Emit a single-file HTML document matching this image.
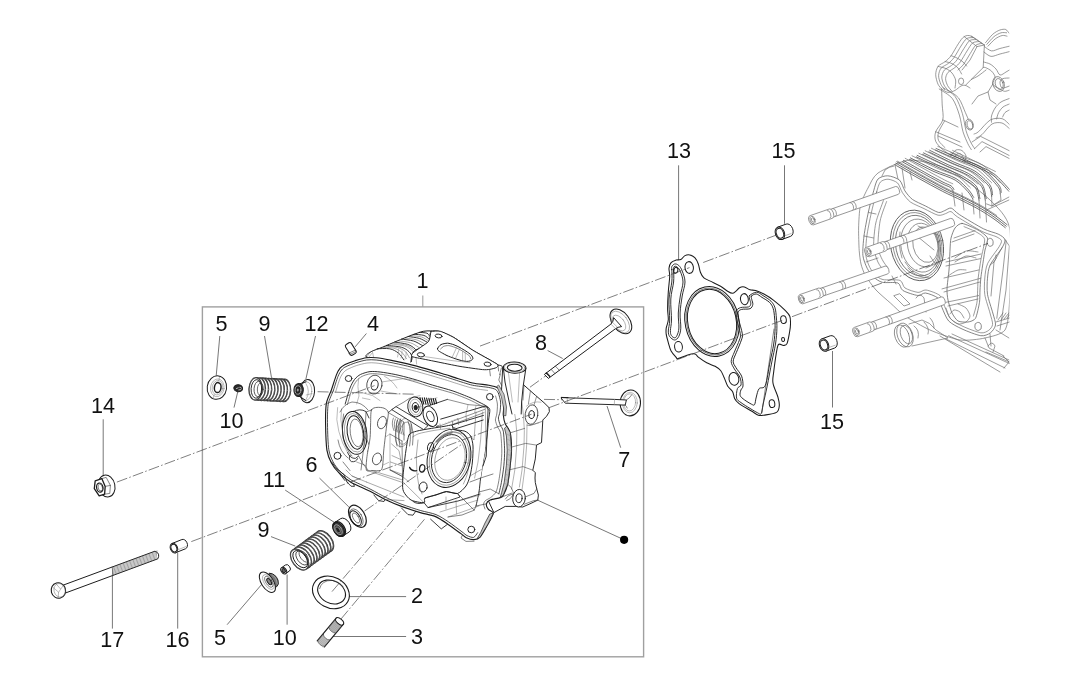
<!DOCTYPE html>
<html><head><meta charset="utf-8"><title>Cylinder head exploded view</title>
<style>
html,body{margin:0;padding:0;background:#fff;}
body{width:1077px;height:673px;overflow:hidden;font-family:"Liberation Sans",sans-serif;}
svg{display:block;position:absolute;left:0;top:0;filter:grayscale(100%);}
text{font-family:"Liberation Sans",sans-serif;font-size:21.6px;fill:#111;text-anchor:middle;}
.k{fill:none;stroke:#1c1c1c;stroke-width:1;stroke-linecap:round;stroke-linejoin:round;}
.kw{fill:#fff;stroke:#1c1c1c;stroke-width:1;stroke-linecap:round;stroke-linejoin:round;}
.t{fill:none;stroke:#333;stroke-width:.6;stroke-linecap:round;stroke-linejoin:round;}
.tw{fill:#fff;stroke:#333;stroke-width:.6;stroke-linejoin:round;}
.u{fill:none;stroke:#777;stroke-width:.5;stroke-linecap:round;stroke-linejoin:round;}
.g{fill:none;stroke:#707070;stroke-width:.7;stroke-linecap:round;stroke-linejoin:round;}
.gw{fill:#fff;stroke:#707070;stroke-width:.7;stroke-linejoin:round;}
.c{fill:none;stroke:#3a3a3a;stroke-width:.65;stroke-dasharray:11 2.2 1.6 2.2;}
.l{fill:none;stroke:#4a4a4a;stroke-width:.75;}
.b{fill:none;stroke:#a0a0a0;stroke-width:1.4;}
</style></head><body>
<svg width="1077" height="673" viewBox="0 0 1077 673">
<!-- 00_lines.svg -->
<g id="frame">
<rect class="b" x="202.4" y="306.9" width="441.2" height="349.9"/>
<line class="b" x1="422.8" y1="295.4" x2="422.8" y2="306.9" style="stroke-width:1.1"/>
</g>

<g id="leaders">
<line class="l" x1="219.8" y1="336" x2="216.2" y2="375.8"/>
<line class="l" x1="264.5" y1="336" x2="271.5" y2="377.7"/>
<line class="l" x1="315.5" y1="336" x2="305.9" y2="379"/>
<line class="l" x1="366.4" y1="333.5" x2="355.1" y2="346.9"/>
<line class="l" x1="547.6" y1="350.5" x2="562.7" y2="358.5"/>
<line class="l" x1="607" y1="406" x2="620.7" y2="447.7"/>
<line class="l" x1="678.6" y1="165.3" x2="678.6" y2="262"/>
<line class="l" x1="784.5" y1="165.3" x2="784.5" y2="223.8"/>
<line class="l" x1="832.5" y1="351" x2="832.5" y2="407.5"/>
<line class="l" x1="103.2" y1="419.3" x2="103.2" y2="475.3"/>
<line class="l" x1="237.7" y1="392" x2="234" y2="407.6"/>
<line class="l" x1="319.5" y1="478.1" x2="348.8" y2="506.9"/>
<line class="l" x1="285.2" y1="490.1" x2="336.2" y2="523.6"/>
<line class="l" x1="271" y1="536.6" x2="295.3" y2="546.1"/>
<line class="l" x1="262.2" y1="583.8" x2="227.1" y2="624.7"/>
<line class="l" x1="287.1" y1="574.5" x2="287.1" y2="624.7"/>
<line class="l" x1="348.4" y1="596.6" x2="406.1" y2="596.6"/>
<line class="l" x1="330.4" y1="636.5" x2="406.1" y2="636.5"/>
<line class="l" x1="112.4" y1="574.3" x2="112.4" y2="628.6"/>
<line class="l" x1="177.7" y1="552.6" x2="177.7" y2="628.6"/>
<line class="l" x1="537.7" y1="500.2" x2="624.1" y2="539.8"/>
<circle cx="624.1" cy="539.8" r="4.1" fill="#000"/>
</g>
<g id="labels">
<text x="422.4" y="288.4">1</text>
<text x="221.5" y="331.1">5</text>
<text x="264.6" y="331.1">9</text>
<text x="316.5" y="331.1">12</text>
<text x="373" y="331.2">4</text>
<text x="541" y="349.9">8</text>
<text x="624.2" y="466.7">7</text>
<text x="678.9" y="157.6">13</text>
<text x="783.4" y="157.6">15</text>
<text x="832.1" y="429.0">15</text>
<text x="102.9" y="412.6">14</text>
<text x="231.4" y="427.5">10</text>
<text x="311.5" y="472.3">6</text>
<text x="274" y="486.5">11</text>
<text x="263.5" y="536.6">9</text>
<text x="220" y="644.9">5</text>
<text x="284.7" y="644.9">10</text>
<text x="417" y="602.8">2</text>
<text x="417" y="644.2">3</text>
<text x="112.2" y="646.7">17</text>
<text x="177.5" y="646.7">16</text>
</g>

<!-- 05_ghost.svg -->
<g id="ghost" clip-path="url(#gclip)">
<clipPath id="gclip"><rect x="780" y="0" width="229.6" height="400"/></clipPath>
<path class="gw" d="M964.2 36.6 L971.3 36.2 L984.4 45.0 L988.0 40.0 L992.7 34.3 L999.9 30.0 L1005.8 29.5 L1009.6 33.0 L1012.0 40.0 L1012.0 165.0 L980.0 168.0 L951.1 155.5 L942.8 149.6 L935.7 141.3 L935.7 131.7 L942.8 119.9 L941.6 89.0 L938.0 84.2 L935.7 74.7 L938.0 66.4 L945.2 61.6 L951.1 55.7 L958.3 43.8Z" style="stroke:none"/>
<path class="g" d="M984.4 45.0 C982.4 43.7 974.3 37.5 971.3 36.2 C968.3 34.9 966.2 35.5 964.2 36.6 C962.2 37.7 960.3 40.9 958.3 43.8 C956.3 46.7 953.1 53.0 951.1 55.7 C949.1 58.4 947.2 60.0 945.2 61.6 C943.2 63.2 939.4 64.4 938.0 66.4 C936.6 68.4 935.7 72.0 935.7 74.7 C935.7 77.4 937.1 82.1 938.0 84.2 C938.9 86.3 941.1 88.3 941.6 89.0"/>
<path class="g" d="M973.0 37.6 C972.0 37.8 968.4 37.3 966.6 38.6 C964.8 39.9 962.9 43.1 961.0 46.0 C959.1 48.9 955.9 55.0 954.0 57.6 C952.1 60.2 950.3 61.8 948.4 63.4 C946.5 65.0 942.7 66.2 941.2 68.0 C939.7 69.8 938.7 73.2 938.6 75.6 C938.5 78.0 939.9 82.1 940.8 84.2 C941.7 86.3 944.0 88.8 944.6 89.6"/>
<path class="g" d="M975.6 39.6 C974.7 39.8 971.3 39.3 969.6 40.6 C967.9 41.9 965.9 45.5 964.0 48.4 C962.1 51.2 959.1 57.0 957.2 59.6 C955.3 62.2 953.5 63.8 951.6 65.4 C949.7 67.0 945.9 68.3 944.4 70.0 C942.9 71.7 941.9 74.8 941.8 77.0 C941.7 79.2 943.1 83.0 944.0 85.0 C944.9 87.0 947.4 89.4 948.0 90.2"/>
<path class="g" d="M978.6 41.6 C977.7 41.8 974.3 41.6 972.6 43.0 C970.9 44.4 968.8 48.2 967.0 51.0 C965.2 53.8 962.2 59.3 960.4 61.8 C958.6 64.3 956.7 66.0 954.8 67.6 C952.9 69.2 949.4 70.8 948.0 72.4 C946.6 74.1 945.7 76.6 945.6 78.6 C945.5 80.6 946.7 83.8 947.6 85.6 C948.5 87.4 951.0 90.0 951.6 90.8"/>
<path class="g" d="M981.6 43.4 C980.7 43.7 977.3 43.9 975.6 45.4 C973.9 46.9 972.0 50.8 970.2 53.6 C968.4 56.4 965.6 61.5 963.8 64.0 C962.0 66.5 958.9 69.1 958.0 70.0"/>
<path class="g" d="M964.2 36.6 L977 46.6 L984.4 45 M971.3 36.2 L983.4 44.4 M977 46.6 L970 60 L962 70 M984.4 45 L983.2 67.6 L971.3 79.4 L965.4 85.4"/>
<path class="g" d="M951.1 55.7 C952.0 56.0 955.2 57.1 957.0 58.0 C958.8 58.9 961.6 60.8 963.0 62.0 C964.4 63.2 966.1 65.4 966.6 66.0"/>
<path class="g" d="M945.2 61.6 C946.2 61.9 950.1 62.6 952.0 63.6 C953.9 64.6 956.6 66.4 958.0 68.0 C959.4 69.6 961.1 73.1 961.6 74.0"/>
<path class="g" d="M938.0 66.4 C939.2 66.7 943.9 67.6 946.0 68.6 C948.1 69.6 950.6 71.3 952.0 73.0 C953.4 74.7 955.1 77.8 955.6 80.0 C956.1 82.2 955.1 86.8 955.0 88.0"/>
<ellipse class="gw" cx="961.10" cy="81.30" rx="2.60" ry="3.30"/>
<path class="g" d="M941.6 89.0 C942.6 89.5 946.0 92.2 948.0 92.4 C950.0 92.6 953.0 91.4 955.0 90.4 C957.0 89.4 959.4 86.8 961.0 86.0 C962.6 85.2 964.0 85.1 965.4 85.4 C966.8 85.7 969.3 87.6 970.0 88.0"/>
<path class="g" d="M985.6 42.6 C986.7 41.4 990.6 36.2 992.7 34.3 C994.8 32.4 997.9 30.7 999.9 30.0 C1001.9 29.3 1004.4 29.0 1005.8 29.5 C1007.1 30.0 1008.4 32.6 1008.9 33.1"/>
<path class="g" d="M988.0 46.2 C989.1 45.1 993.0 40.6 995.1 39.0 C997.2 37.4 1000.4 35.9 1002.2 35.5 C1004.0 35.1 1006.3 36.1 1007.0 36.2"/>
<path class="g" d="M986.8 44.4 C987.9 43.2 991.9 38.3 994.0 36.6 C996.1 34.9 999.1 33.4 1001.0 32.8 C1002.9 32.2 1005.8 32.8 1006.6 32.8"/>
<path class="g" d="M984.4 46.6 C985.5 47.2 989.2 50.6 991.5 50.9 C993.8 51.2 997.2 49.2 999.9 48.5 C1002.6 47.8 1008.0 46.5 1009.4 46.2"/>
<path class="g" d="M984.0 52.0 C985.0 52.7 988.6 56.1 991.0 56.4 C993.4 56.7 997.2 54.7 1000.0 54.0 C1002.8 53.3 1008.0 52.0 1009.4 51.6"/>
<path class="g" d="M983.2 67.6 C983.6 67.6 984.4 67.1 985.6 67.6 C986.8 68.1 990.1 69.7 991.5 71.1 C992.9 72.5 994.9 75.1 995.1 77.1 C995.3 79.1 992.0 82.4 992.7 84.2 C993.4 86.0 998.1 87.9 999.9 89.0 C1001.7 90.1 1003.2 91.1 1004.6 91.3 C1006.0 91.5 1008.7 90.3 1009.4 90.1"/>
<path class="g" d="M983.6 62.0 C984.6 62.3 988.1 63.0 990.0 64.0 C991.9 65.0 994.5 67.3 996.0 69.0 C997.5 70.7 998.5 74.5 1000.0 75.0 C1001.5 75.5 1004.6 72.8 1006.0 72.0 C1007.4 71.2 1008.9 70.3 1009.4 70.0"/>
<path class="g" d="M971.3 79.4 C972.3 78.9 975.8 77.4 978.0 76.0 C980.2 74.6 984.8 70.9 986.0 70.0"/>
<ellipse class="g" cx="998.60" cy="84.00" rx="5.60" ry="7.60" transform="rotate(-20.0 998.60 84.00)"/>
<ellipse class="g" cx="999.20" cy="84.00" rx="3.80" ry="5.60" transform="rotate(-20.0 999.20 84.00)"/>
<path class="g" d="M1009.4 78.0 C1008.4 78.1 1004.4 78.0 1003.0 78.6 C1001.6 79.2 1000.1 80.6 1000.0 82.0 C999.9 83.4 1000.6 87.4 1002.0 88.0 C1003.4 88.6 1008.3 86.3 1009.4 86.0"/>
<path class="g" d="M941.6 89.0 C941.7 91.4 942.0 100.4 942.2 105.0 C942.4 109.6 943.8 115.9 942.8 119.9 C941.8 123.9 936.8 128.5 935.7 131.7 C934.6 134.9 934.6 138.6 935.7 141.3 C936.8 144.0 940.5 147.5 942.8 149.6 C945.1 151.7 949.9 154.6 951.1 155.5"/>
<path class="g" d="M944.6 121.0 C943.7 122.7 939.5 129.1 938.6 132.0 C937.7 134.9 937.6 138.3 938.6 140.6 C939.6 142.9 944.0 146.5 945.0 147.6"/>
<path class="g" d="M942.8 119.9 L958 127 M935.7 131.7 L960 142 M938 136 L962 147"/>
<path class="g" d="M939.2 89.0 C941.2 90.4 949.3 94.6 952.3 98.5 C955.3 102.4 957.8 110.1 959.4 115.1 C961.0 120.1 961.7 127.4 963.0 131.7 C964.3 136.0 966.6 140.9 967.8 143.6 C969.0 146.3 970.8 148.7 971.3 149.6"/>
<path class="g" d="M943.0 87.6 C944.8 88.9 952.3 92.7 955.2 96.6 C958.1 100.5 960.8 108.5 962.4 113.6 C964.0 118.7 964.8 126.3 966.0 130.6 C967.2 134.9 969.3 139.3 970.6 142.0 C971.9 144.7 974.0 147.6 974.6 148.6"/>
<path class="g" d="M948.0 90.2 C949.6 91.4 956.0 94.6 958.6 98.0 C961.2 101.4 963.9 109.3 965.4 112.6 C966.9 115.9 968.1 118.9 968.6 120.0"/>
<ellipse class="gw" cx="969.40" cy="124.60" rx="3.80" ry="5.50" transform="rotate(-15.0 969.40 124.60)"/>
<ellipse class="g" cx="969.90" cy="124.90" rx="2.80" ry="4.40" transform="rotate(-15.0 969.90 124.90)"/>
<path class="g" d="M974.0 134.0 C974.7 133.7 976.0 133.8 978.5 131.7 C981.0 129.6 986.8 121.9 990.4 119.9 C994.0 118.0 999.4 118.0 1002.2 118.7 C1005.1 119.4 1008.3 123.7 1009.4 124.6"/>
<path class="g" d="M976.0 138.0 C976.9 137.5 979.6 136.7 982.0 134.6 C984.4 132.5 989.0 125.7 992.0 124.0 C995.0 122.3 999.4 122.3 1002.0 123.0 C1004.6 123.7 1008.3 127.8 1009.4 128.6"/>
<path class="g" d="M972 142 L980.6 136.4 L1009.4 150.8 M974.6 148.6 L982 141.6 L1009.4 155.6 M980 152 L986 146.6 L1009.4 158.6"/>
<path class="g" d="M1009.4 98.5 C1008.1 99.0 1003.1 100.6 1001.0 102.0 C998.9 103.4 996.5 105.9 995.1 108.0 C993.7 110.1 992.0 113.9 991.5 116.0 C991.0 118.1 991.5 121.3 991.5 122.2"/>
<path class="g" d="M1009.4 104.0 C1008.4 104.5 1004.6 105.7 1003.0 107.0 C1001.4 108.3 999.6 110.8 998.6 112.6 C997.6 114.4 996.9 118.0 996.6 119.0"/>
<path class="g" d="M1009.4 110.0 C1008.7 110.4 1006.0 111.5 1005.0 112.6 C1004.0 113.6 1003.0 116.3 1002.6 117.0"/>
<path class="g" d="M992.7 84.2 L988 92 L990 100 L996 104 M988 92 L978 96 L972 104"/>
<path class="g" d="M951.1 155.5 C951.8 154.7 954.4 150.7 956.0 150.0 C957.6 149.3 960.5 149.7 962.0 150.6 C963.5 151.5 965.7 154.3 966.0 156.0 C966.3 157.7 964.3 161.1 964.0 162.0"/>
<path class="g" d="M953.6 158.0 C954.2 157.3 956.4 154.1 957.6 153.6 C958.8 153.1 960.7 153.8 961.6 154.6 C962.5 155.4 963.3 158.3 963.6 159.0"/>
<path class="gw" d="M878.0 173.0 C873.1 176.3 870.1 184.2 868.0 188.0 C865.9 191.8 861.5 200.8 860.4 205.5 C859.3 210.2 858.7 222.8 858.6 228.0 C858.5 233.2 858.9 246.3 859.2 250.5 C859.5 254.7 860.3 261.1 861.0 264.0 C861.7 266.9 863.6 272.5 865.4 275.5 C867.1 278.5 873.1 286.8 876.0 290.0 C878.9 293.2 887.0 300.0 890.4 303.0 C893.8 306.0 900.4 312.9 905.0 316.0 C909.6 319.1 923.6 327.2 930.0 330.0 C936.4 332.8 953.6 339.1 960.0 340.0 C966.4 340.9 979.8 339.2 985.0 338.0 C990.2 336.8 1002.1 334.4 1005.0 330.0 C1007.9 325.6 1009.1 311.9 1009.6 300.0 C1010.1 288.1 1011.9 239.7 1009.6 228.0 C1007.3 216.3 997.0 206.8 990.0 200.0 C983.0 193.2 959.3 174.7 950.0 170.0 C940.7 165.3 918.4 159.7 910.0 160.0 C901.6 160.3 882.9 169.7 878.0 173.0Z"/>
<path class="g" d="M895.0 164.8 C898.5 166.8 910.8 174.0 918.0 178.0 C925.2 182.0 936.1 188.0 942.7 191.4 C949.3 194.8 956.4 197.8 962.0 200.6 C967.6 203.4 975.5 207.4 980.3 210.2 C985.1 213.0 990.2 216.4 994.0 219.0 C997.8 221.6 1003.6 226.4 1005.3 227.7 M895.9 163.3 C899.4 165.3 911.7 172.5 918.9 176.5 C926.1 180.5 937.0 186.5 943.6 189.9 C950.2 193.3 957.3 196.3 962.9 199.1 C968.5 201.9 976.4 205.9 981.2 208.7 C986.0 211.5 991.1 214.9 994.9 217.5 C998.6 220.1 1004.5 224.9 1006.2 226.2 M896.8 161.8 C900.2 163.8 912.6 171.0 919.8 175.0 C927.0 179.0 937.9 185.0 944.5 188.4 C951.1 191.8 958.2 194.8 963.8 197.6 C969.4 200.4 977.3 204.4 982.1 207.2 C986.9 210.0 992.0 213.4 995.8 216.0 C999.5 218.6 1005.4 223.4 1007.1 224.7 M902.6 161.9 C906.1 163.9 920.1 171.7 926.0 175.0 C931.9 178.3 938.4 181.7 942.0 183.6 C945.6 185.5 948.6 186.3 950.2 187.4 C951.9 188.5 952.6 190.5 953.0 191.0 M903.5 160.4 C907.0 162.4 921.0 170.2 926.9 173.5 C932.8 176.8 939.3 180.2 942.9 182.1 C946.5 184.0 949.5 184.8 951.1 185.9 C952.8 187.0 953.5 189.0 953.9 189.5 M909.5 159.4 C913.2 161.2 927.1 168.5 934.0 171.6 C940.9 174.7 950.1 177.1 955.2 180.1 C960.3 183.1 965.1 188.6 967.7 191.4 C970.3 194.2 972.0 197.8 972.8 198.9 M910.4 157.9 C914.1 159.7 928.0 167.0 934.9 170.1 C941.8 173.2 951.0 175.6 956.1 178.6 C961.2 181.6 966.0 187.1 968.6 189.9 C971.2 192.7 972.9 196.3 973.7 197.4 M916.3 156.9 C920.2 158.7 935.2 165.9 942.0 169.0 C948.8 172.1 956.5 174.8 961.5 177.6 C966.5 180.4 972.7 184.2 975.3 187.6 C977.9 191.0 978.4 198.2 979.0 200.1 M917.2 155.4 C921.1 157.2 936.1 164.4 942.9 167.5 C949.7 170.6 957.4 173.3 962.4 176.1 C967.4 178.9 973.6 182.7 976.2 186.1 C978.8 189.5 979.3 196.7 979.9 198.6 M922.6 154.4 C926.4 156.2 941.2 163.5 948.0 166.6 C954.8 169.7 962.7 172.1 967.7 175.1 C972.7 178.1 978.9 182.7 981.5 186.4 C984.1 190.2 984.7 198.0 985.3 200.1 M923.5 152.9 C927.3 154.7 942.1 162.0 948.9 165.1 C955.7 168.2 963.6 170.6 968.6 173.6 C973.6 176.6 979.8 181.2 982.4 184.9 C985.0 188.7 985.6 196.5 986.2 198.6 M928.9 151.9 C932.7 153.7 947.2 160.9 954.0 164.0 C960.8 167.1 968.8 169.2 974.0 172.6 C979.2 176.0 986.4 182.8 989.0 186.4 C991.6 190.0 991.2 194.9 991.6 196.4 M929.8 150.4 C933.6 152.2 948.1 159.4 954.9 162.5 C961.7 165.6 969.6 167.7 974.9 171.1 C980.1 174.5 987.3 181.3 989.9 184.9 C992.5 188.5 992.1 193.4 992.5 194.9 M935.2 150.0 C938.9 151.6 953.2 157.8 960.0 160.6 C966.8 163.4 974.6 164.9 980.3 168.8 C986.0 172.7 994.8 182.6 997.8 186.4 C1000.8 190.2 999.9 192.8 1000.3 193.9 M936.1 148.5 C939.8 150.1 954.1 156.3 960.9 159.1 C967.7 161.9 975.5 163.4 981.2 167.3 C986.9 171.2 995.7 181.1 998.7 184.9 C1001.7 188.7 1000.8 191.3 1001.2 192.4 M950.0 154.0 C953.0 155.5 963.8 160.6 970.2 163.8 C976.6 167.0 987.0 171.0 992.8 175.1 C998.6 179.2 1006.6 189.0 1009.0 191.4 M950.9 152.5 C953.9 154.0 964.7 159.1 971.1 162.3 C977.5 165.5 987.9 169.5 993.7 173.6 C999.5 177.7 1007.5 187.5 1009.9 189.9" style="stroke:#4a4a4a;stroke-width:.8"/>
<path class="g" d="M897.6 161.2 C901.1 163.2 913.4 170.4 920.6 174.4 C927.8 178.4 938.7 184.4 945.3 187.8 C951.9 191.2 959.0 194.2 964.6 197.0 C970.2 199.8 978.1 203.8 982.9 206.6 C987.7 209.4 994.5 214.1 996.6 215.4 M905.2 158.3 C908.7 160.3 922.7 168.1 928.6 171.4 C934.5 174.7 941.0 178.1 944.6 180.0 C948.2 181.9 951.6 183.2 952.8 183.8 M912.1 155.8 C915.8 157.6 929.7 164.9 936.6 168.0 C943.5 171.1 952.7 173.5 957.8 176.5 C962.9 179.5 968.4 186.1 970.3 187.8 M918.9 153.3 C922.8 155.1 937.8 162.3 944.6 165.4 C951.4 168.5 959.1 171.2 964.1 174.0 C969.1 176.8 975.8 182.5 977.9 184.0 M925.2 150.8 C929.0 152.6 943.8 159.9 950.6 163.0 C957.4 166.1 965.3 168.5 970.3 171.5 C975.3 174.5 982.0 181.1 984.1 182.8 M931.5 148.3 C935.3 150.1 949.8 157.3 956.6 160.4 C963.4 163.5 971.4 165.6 976.6 169.0 C981.9 172.4 989.4 180.7 991.6 182.8 M937.8 146.4 C941.5 148.0 955.8 154.2 962.6 157.0 C969.4 159.8 977.2 161.3 982.9 165.2 C988.6 169.1 997.8 180.2 1000.4 182.8 M952.6 150.4 C955.6 151.9 966.4 157.0 972.8 160.2 C979.2 163.4 992.0 169.8 995.4 171.5"/>
<path class="g" d="M894 166 Q889 166.6 885 170 L882 176 M895 164.8 L899 184 M902 168 L905 188 M910 172 L912 180"/>
<path class="g" d="M953 191 L955 206 M962 193 L964 210 M972.8 198.9 L974 214 M979 200.1 L980 218 M985.3 200.1 L986.5 222 M991.6 196.4 L992 206 L986.5 203.9 M1000.3 193.9 L1001 200 L992 206 M992 206 L1009 197 M986.5 210 L1009 200"/>
<path class="gw" d="M873.7 190.8 C875.0 186.3 876.1 181.0 878.0 179.0 C879.9 177.0 884.8 175.7 887.7 175.8 C890.6 175.9 897.2 178.1 899.5 180.1 C901.8 182.1 903.2 188.2 904.9 190.8 C906.6 193.4 909.7 197.4 912.4 199.4 C915.1 201.4 921.8 204.2 925.3 205.9 C928.8 207.6 935.7 211.8 938.3 212.4 C940.9 213.0 943.0 211.2 944.7 210.6 C946.4 210.0 949.2 207.6 951.2 208.1 C953.2 208.6 955.1 211.8 959.4 214.6 C963.7 217.4 978.3 226.2 983.5 228.8 C988.7 231.4 995.3 232.7 998.2 234.1 C1001.1 235.5 1004.4 237.7 1004.9 239.5 C1005.4 241.3 1004.2 244.1 1002.2 247.5 C1000.2 250.9 992.2 260.8 990.2 264.9 C988.2 269.0 987.9 274.3 987.5 278.2 C987.1 282.1 986.8 289.7 987.5 294.3 C988.2 298.9 991.7 308.9 992.8 313.0 C993.9 317.1 995.8 322.3 995.5 325.0 C995.2 327.7 992.2 331.6 990.2 333.0 C988.2 334.4 984.5 336.2 980.8 335.7 C977.1 335.2 966.4 331.0 962.1 329.0 C957.8 327.0 951.4 323.9 948.7 321.0 C946.0 318.1 943.4 310.7 942.0 307.6 C940.6 304.5 940.1 299.9 937.9 298.0 C935.7 296.1 928.1 293.3 925.4 293.0 C922.7 292.7 920.9 295.8 917.9 295.5 C914.9 295.2 905.6 292.2 902.9 290.5 C900.2 288.8 900.6 284.1 897.9 283.0 C895.2 281.9 885.5 283.1 882.3 282.3 C879.1 281.5 875.7 278.9 873.7 277.0 C871.7 275.1 868.6 271.2 867.2 268.3 C865.8 265.4 863.3 259.7 862.9 255.4 C862.5 251.1 863.3 241.7 864.0 236.0 C864.7 230.3 867.0 218.4 868.3 212.4 C869.6 206.4 872.4 195.3 873.7 190.8Z" style="stroke:#666;stroke-width:.8"/>
<path class="g" d="M876.6 192.0 C877.8 187.8 878.9 183.7 880.4 182.0 C881.9 180.3 885.7 179.1 888.0 179.2 C890.3 179.3 895.7 181.2 897.6 183.0 C899.5 184.8 900.7 190.1 902.4 192.6 C904.1 195.1 907.5 199.9 910.4 202.0 C913.3 204.1 920.3 206.8 924.0 208.6 C927.7 210.4 935.1 214.5 938.0 215.2 C940.9 215.9 943.9 214.1 945.6 213.6 C947.3 213.1 949.4 211.1 951.0 211.6 C952.6 212.1 953.5 214.4 957.6 217.0 C961.7 219.6 976.9 228.8 982.0 231.4 C987.1 234.0 993.4 235.4 996.0 236.6 C998.6 237.8 1001.0 239.3 1001.4 240.6 C1001.8 241.9 1001.0 243.5 999.2 246.6 C997.4 249.7 989.5 259.4 987.6 263.6 C985.7 267.8 985.2 273.9 984.8 278.0 C984.4 282.1 984.1 289.9 984.8 294.6 C985.5 299.3 989.0 309.0 990.0 313.0 C991.0 317.0 992.8 322.1 992.6 324.4 C992.4 326.7 990.2 329.3 988.6 330.4 C987.0 331.5 984.2 333.3 980.8 332.8 C977.4 332.3 967.0 328.3 963.0 326.4 C959.0 324.5 953.1 321.5 950.6 318.8 C948.1 316.1 946.0 309.5 944.6 306.4 C943.2 303.3 942.5 297.8 940.0 295.6 C937.5 293.4 928.9 290.4 926.0 290.0 C923.1 289.6 920.8 292.7 918.0 292.4 C915.2 292.1 907.4 289.6 905.0 288.0 C902.6 286.4 902.9 281.5 900.0 280.4 C897.1 279.3 886.3 280.3 883.0 279.6 C879.7 278.9 877.4 276.6 875.6 275.0 C873.8 273.4 871.1 270.1 869.8 267.4 C868.5 264.7 866.2 259.1 865.8 255.0 C865.4 250.9 866.1 241.9 866.8 236.4 C867.5 230.9 869.9 219.3 871.2 213.4 C872.5 207.5 875.4 196.2 876.6 192.0Z"/>
<path class="g" d="M886.6 201.6 C885.7 204.2 881.2 215.0 880.1 221.0 C879.0 227.0 877.7 241.6 878.0 246.8 C878.3 252.0 881.0 256.9 882.3 259.7 C883.6 262.5 887.2 266.9 888.0 268.0"/>
<path class="g" d="M883.4 200.6 C882.4 203.6 877.1 216.8 875.8 223.0 C874.5 229.2 873.4 241.6 873.7 246.8 C874.0 252.0 876.5 258.8 877.9 262.0 C879.3 265.2 883.2 269.8 884.0 271.0"/>
<path class="g" d="M868.3 212.4 L876 214 M864 236 L873.7 238 M866 262 L878 258 M873.7 277 L884 271 M892 276 L896 284"/>
<ellipse class="g" cx="917.00" cy="245.40" rx="26.20" ry="35.60" transform="rotate(-12.0 917.00 245.40)" style="stroke:#5c5c5c;stroke-width:.9"/>
<ellipse class="g" cx="917.40" cy="245.40" rx="24.20" ry="33.20" transform="rotate(-12.0 917.40 245.40)"/>
<ellipse class="g" cx="918.00" cy="245.60" rx="22.20" ry="30.60" transform="rotate(-12.0 918.00 245.60)" style="stroke:#666;stroke-width:.8"/>
<ellipse class="g" cx="920.00" cy="245.60" rx="19.00" ry="26.80" transform="rotate(-12.0 920.00 245.60)"/>
<ellipse class="g" cx="923.00" cy="245.00" rx="15.40" ry="22.00" transform="rotate(-12.0 923.00 245.00)"/>
<ellipse class="g" cx="925.40" cy="244.60" rx="12.40" ry="18.00" transform="rotate(-12.0 925.40 244.60)"/>
<path class="g" d="M912 232 L934 250 M918 226 L940 236 M930 256 L938 268 M905 262 Q912 274 926 276 M908 268 Q916 278 930 278 M926 268 L940 262 M900 232 Q898 246 902 258"/>
<path class="g" d="M962.1 223.4 C964.8 223.6 975.1 228.4 978.1 230.1 C981.1 231.8 986.7 235.8 987.5 238.1 C988.3 240.4 985.5 247.5 985.0 250.0 C984.5 252.5 984.0 256.2 983.5 259.5 C983.0 262.8 981.2 274.6 980.8 278.2 C980.4 281.8 980.2 287.2 980.0 290.0 C979.8 292.8 980.0 299.0 979.5 302.3 C979.0 305.6 976.8 316.0 975.5 318.3 C974.2 320.6 970.0 321.7 968.0 322.0 C966.0 322.3 959.9 322.1 958.0 321.0 C956.1 319.9 953.2 315.4 952.0 313.0 C950.8 310.6 948.6 302.8 948.0 300.0 C947.4 297.2 946.9 292.4 947.0 288.9 C947.1 285.4 948.6 274.5 949.0 270.0 C949.4 265.5 949.8 253.7 950.0 250.0 C950.2 246.3 950.4 240.7 951.0 238.1 C951.6 235.5 953.7 229.7 955.0 228.0 C956.3 226.3 959.4 223.2 962.1 223.4Z" style="stroke:#666;stroke-width:.8"/>
<path class="g" d="M964.0 226.6 C965.5 227.3 974.6 230.9 977.0 232.4 C979.4 233.9 984.1 236.3 984.6 239.4 C985.1 242.5 981.7 254.5 981.0 259.0 C980.3 263.5 978.7 273.0 978.2 278.0 C977.7 283.0 977.6 297.6 977.0 302.0 C976.4 306.4 973.8 314.4 973.4 316.0"/>
<path class="g" d="M954 238 L975 230.6 M952 242 L974 234 M946 262 L981 254 M946 266 L980.6 258.6 M944 278 L978.6 270 M942 288.9 L980.8 278.2 M944 292 L980 282 M946 302.3 L978.6 295.6 M948 306 L978 299"/>
<path class="g" d="M955.0 258.0 C956.5 257.1 962.9 251.8 966.0 251.0 C969.1 250.2 976.4 251.9 978.0 252.0"/>
<path class="g" d="M955.0 262.0 C956.5 261.2 963.2 256.5 966.0 256.0 C968.8 255.5 974.7 257.7 976.0 258.0"/>
<path class="g" d="M948.0 276.0 C949.3 275.2 955.6 270.8 958.0 270.0 C960.4 269.2 964.9 270.0 966.0 270.0"/>
<path class="g" d="M946.0 308.0 C946.5 309.3 948.4 315.9 950.0 318.0 C951.6 320.1 955.9 323.5 958.0 324.0 C960.1 324.5 964.4 323.1 966.0 322.0 C967.6 320.9 970.0 317.9 970.0 316.0 C970.0 314.1 967.6 309.6 966.0 308.0 C964.4 306.4 959.1 304.5 958.0 304.0"/>
<path class="g" d="M950.0 314.0 C950.5 313.5 952.7 310.3 954.0 310.0 C955.3 309.7 958.7 310.9 960.0 312.0 C961.3 313.1 963.5 317.2 964.0 318.0"/>
<ellipse class="gw" cx="990.20" cy="242.30" rx="3.00" ry="4.00" transform="rotate(-10.0 990.20 242.30)" style="stroke:#666"/>
<ellipse class="gw" cx="978.10" cy="326.40" rx="3.30" ry="4.00" transform="rotate(-10.0 978.10 326.40)" style="stroke:#666"/>
<path class="g" d="M1006.2 240.8 L1003 270 L996.8 318.3 M1004.9 239.5 L1009.4 246 L1006 290 L1000 330 M1002.2 247.5 L994 262 M990.2 264.9 L994 262 L991 296 M994 262 Q997 259 996 255"/>
<path class="g" d="M996 322 L1009.4 318 M997 326 L1009.4 322 M998 320 L1003 313 M1001 320 L1006 313 M1004 319 L1009 313 M1007 318 L1009.4 315"/>
<path class="g" d="M894 296 L904 306 L910 304 L900 294 Z M916 298 Q920 292 924 298 L926 312"/>
<ellipse class="gw" cx="905.00" cy="335.00" rx="7.60" ry="12.40" transform="rotate(-20.0 905.00 335.00)"/>
<ellipse class="g" cx="906.40" cy="334.60" rx="5.60" ry="9.60" transform="rotate(-20.0 906.40 334.60)"/>
<ellipse class="g" cx="902.00" cy="336.00" rx="7.00" ry="11.60" transform="rotate(-20.0 902.00 336.00)"/>
<path class="g" d="M909 324 L922 320 Q930 322 936 330 L948 338 L912 346 M914 326 Q920 330 918 338 M924 322 Q930 328 928 334 M930 318 Q934 322 934 328"/>
<path class="g" d="M940 336 L1000 372 M948.7 335.7 L1010 363.8 M946 339 L1005 368 M952 334 L1009 360 M985 338 L989 348 L1004 356 M996 330 L1009 338 M986 352 L1009.4 362"/>
<path class="g" d="M988 346 Q992 340 995 346 L993 352 M1003 356 L1009 362 L1004 368 M990 334 L991 346"/>
<path class="gw" d="M829.8 209.6 L895.6 186.5 A2.3 4.1 -19.3 0 1 898.4 194.3 L832.5 217.4Z" style="stroke:#6a6a6a"/>
<path class="gw" d="M810.2 215.6 L829.5 208.9 A2.5 4.9 -19.3 0 1 832.8 218.1 L813.5 224.9 A2.9 4.9 -19.3 0 1 810.2 215.6Z" style="stroke:#6a6a6a"/>
<ellipse class="g" cx="812.60" cy="220.01" rx="2.45" ry="3.92" transform="rotate(-19.3 812.60 220.01)"/>
<ellipse class="g" cx="812.90" cy="220.01" rx="1.37" ry="2.35" transform="rotate(-19.3 812.90 220.01)"/>
<path class="g" d="M827.3 210.5 A2.0 4.1 -19.3 0 1 830.1 218.2"/>
<path class="g" d="M833.0 208.5 A2.0 4.1 -19.3 0 1 835.7 216.2"/>
<path class="g" d="M850.0 202.5 A2.0 4.1 -19.3 0 1 852.7 210.3"/>
<path class="g" d="M852.8 201.6 A2.0 4.1 -19.3 0 1 855.5 209.3"/>
<path class="gw" d="M882.9 242.4 L950.6 218.4 A2.3 4.1 -19.5 0 1 953.4 226.2 L885.7 250.1Z" style="stroke:#6a6a6a"/>
<path class="gw" d="M866.2 247.4 L882.7 241.6 A2.5 4.9 -19.5 0 1 885.9 250.9 L869.5 256.7 A2.9 4.9 -19.5 0 1 866.2 247.4Z" style="stroke:#6a6a6a"/>
<ellipse class="g" cx="868.59" cy="251.80" rx="2.45" ry="3.92" transform="rotate(-19.5 868.59 251.80)"/>
<ellipse class="g" cx="868.89" cy="251.80" rx="1.37" ry="2.35" transform="rotate(-19.5 868.89 251.80)"/>
<path class="g" d="M880.5 243.2 A2.0 4.1 -19.5 0 1 883.2 251.0"/>
<path class="g" d="M886.1 241.2 A2.0 4.1 -19.5 0 1 888.9 249.0"/>
<path class="g" d="M900.3 236.2 A2.0 4.1 -19.5 0 1 903.0 244.0"/>
<path class="g" d="M903.1 235.2 A2.0 4.1 -19.5 0 1 905.9 243.0"/>
<path class="gw" d="M819.1 288.8 L885.2 266.1 A2.3 4.1 -18.9 0 1 887.8 273.9 L821.8 296.5Z" style="stroke:#6a6a6a"/>
<path class="gw" d="M799.5 294.7 L818.8 288.0 A2.5 4.9 -18.9 0 1 822.0 297.3 L802.6 303.9 A2.9 4.9 -18.9 0 1 799.5 294.7Z" style="stroke:#6a6a6a"/>
<ellipse class="g" cx="801.81" cy="299.03" rx="2.45" ry="3.92" transform="rotate(-18.9 801.81 299.03)"/>
<ellipse class="g" cx="802.11" cy="299.03" rx="1.37" ry="2.35" transform="rotate(-18.9 802.11 299.03)"/>
<path class="g" d="M816.6 289.6 A2.0 4.1 -18.9 0 1 819.3 297.4"/>
<path class="g" d="M822.3 287.7 A2.0 4.1 -18.9 0 1 825.0 295.4"/>
<path class="g" d="M839.4 281.8 A2.0 4.1 -18.9 0 1 842.0 289.6"/>
<path class="g" d="M842.2 280.9 A2.0 4.1 -18.9 0 1 844.9 288.6"/>
<path class="gw" d="M869.8 322.7 L941.3 296.9 A2.3 4.1 -19.8 0 1 944.1 304.7 L872.6 330.4Z" style="stroke:#6a6a6a"/>
<path class="gw" d="M854.3 327.4 L869.5 321.9 A2.5 4.9 -19.8 0 1 872.8 331.2 L857.6 336.7 A2.9 4.9 -19.8 0 1 854.3 327.4Z" style="stroke:#6a6a6a"/>
<ellipse class="g" cx="856.69" cy="331.78" rx="2.45" ry="3.92" transform="rotate(-19.8 856.69 331.78)"/>
<ellipse class="g" cx="856.99" cy="331.78" rx="1.37" ry="2.35" transform="rotate(-19.8 856.99 331.78)"/>
<path class="g" d="M867.3 323.6 A2.0 4.1 -19.8 0 1 870.1 331.3"/>
<path class="g" d="M873.0 321.6 A2.0 4.1 -19.8 0 1 875.8 329.3"/>
<path class="g" d="M885.9 316.9 A2.0 4.1 -19.8 0 1 888.7 324.6"/>
<path class="g" d="M888.7 315.9 A2.0 4.1 -19.8 0 1 891.5 323.6"/>
</g>

<!-- 10_small.svg -->
<g id="nut14">
<ellipse class="kw" cx="106.60" cy="486.00" rx="8.30" ry="11.10" transform="rotate(-12.0 106.60 486.00)"/>
<path class="t" d="M101.8 478.6 L106.2 477.4 L110.4 485.4 L109.8 493.4 L104.6 494.2"/>
<path class="kw" d="M95.2 480.8 L101.8 478.6 L105.2 486.4 L104.6 494.2 L99.2 495.9 L94.3 488.6Z" style="stroke-width:1.3"/>
<path class="t" d="M105.2 486.4 L110.4 485.4"/>
<ellipse class="k" cx="99.80" cy="487.60" rx="3.20" ry="4.60" transform="rotate(-12.0 99.80 487.60)" style="stroke-width:1.2"/>
<ellipse class="t" cx="100.30" cy="487.50" rx="2.20" ry="3.50" transform="rotate(-12.0 100.30 487.50)"/>
</g>
<g id="bolt17">
<path class="kw" d="M63 585.20 L155 551.16 Q160.6 553.36 157.8 558.82 L65.7 592.90Z"/>
<path class="u" d="M113.50 566.92 L112.30 575.26 M114.95 566.38 L113.75 574.72 M116.40 565.84 L115.20 574.18 M117.85 565.31 L116.65 573.65 M119.30 564.77 L118.10 573.11 M120.75 564.23 L119.55 572.58 M122.20 563.70 L121.00 572.04 M123.65 563.16 L122.45 571.50 M125.10 562.62 L123.90 570.97 M126.55 562.09 L125.35 570.43 M128.00 561.55 L126.80 569.89 M129.45 561.01 L128.25 569.36 M130.90 560.48 L129.70 568.82 M132.35 559.94 L131.15 568.28 M133.80 559.40 L132.60 567.75 M135.25 558.87 L134.05 567.21 M136.70 558.33 L135.50 566.67 M138.15 557.79 L136.95 566.14 M139.60 557.26 L138.40 565.60 M141.05 556.72 L139.85 565.06 M142.50 556.19 L141.30 564.53 M143.95 555.65 L142.75 563.99 M145.40 555.11 L144.20 563.46 M146.85 554.58 L145.65 562.92 M148.30 554.04 L147.10 562.38 M149.75 553.50 L148.55 561.85 M151.20 552.97 L150.00 561.31 M152.65 552.43 L151.45 560.77 M154.10 551.89 L152.90 560.24 M155.55 551.36 L154.35 559.70 M157.00 550.82 L155.80 559.16" style="stroke:#555;stroke-width:.55"/>
<path class="t" d="M112.2 567.00 L113 575.40"/>
<ellipse class="kw" cx="58.40" cy="590.50" rx="7.20" ry="7.80" transform="rotate(-15.0 58.40 590.50)" style="stroke-width:1.1"/>
<path class="u" d="M53.2 587.6 L58.6 592.2 L58.2 597.6 M58.6 592.2 L62.6 586.4 M56.2 584 L60.4 588.8"/>
<ellipse class="u" cx="59.60" cy="590.30" rx="5.60" ry="6.90" transform="rotate(-15.0 59.60 590.30)"/>
</g>
<g id="bush16">
<path class="kw" d="M175.75 552.69 L185.58 548.72 A3.56 4.95 -22.0 0 0 181.87 539.54 L172.05 543.51"/>
<ellipse class="kw" cx="173.90" cy="548.10" rx="3.56" ry="4.95" transform="rotate(-22.0 173.90 548.10)"/>
<ellipse class="k" cx="173.90" cy="548.10" rx="2.78" ry="3.86" transform="rotate(-22.0 173.90 548.10)"/>
<path class="u" d="M178.76 549.45 L186.27 546.41"/>
</g>
<g id="bush15a">
<path class="kw" d="M782.12 239.41 L790.58 236.33 A4.55 6.50 -20.0 0 0 786.13 224.11 L777.68 227.19"/>
<ellipse class="kw" cx="779.90" cy="233.30" rx="4.55" ry="6.50" transform="rotate(-20.0 779.90 233.30)"/>
<ellipse class="k" cx="779.90" cy="233.30" rx="3.55" ry="5.07" transform="rotate(-20.0 779.90 233.30)"/>
<path class="u" d="M785.04 235.72 L791.15 233.50"/>
</g>
<g id="bush15b">
<path class="kw" d="M826.22 351.11 L834.68 348.03 A4.55 6.50 -20.0 0 0 830.23 335.81 L821.78 338.89"/>
<ellipse class="kw" cx="824.00" cy="345.00" rx="4.55" ry="6.50" transform="rotate(-20.0 824.00 345.00)"/>
<ellipse class="k" cx="824.00" cy="345.00" rx="3.55" ry="5.07" transform="rotate(-20.0 824.00 345.00)"/>
<path class="u" d="M829.14 347.42 L835.25 345.20"/>
</g>
<g id="cap5a">
<ellipse class="kw" cx="216.90" cy="387.60" rx="9.70" ry="11.80" transform="rotate(8.0 216.90 387.60)"/>
<ellipse class="u" cx="217.30" cy="387.80" rx="6.80" ry="8.90" transform="rotate(8.0 217.30 387.80)"/>
<ellipse class="u" cx="217.50" cy="387.70" rx="5.30" ry="7.20" transform="rotate(8.0 217.50 387.70)"/>
<ellipse class="k" cx="217.70" cy="387.60" rx="3.30" ry="5.00" transform="rotate(8.0 217.70 387.60)" style="stroke-width:1.5"/>
<path class="u" d="M219.5 377.5 L218.6 381 M214.2 394.5 L213.4 397.6"/>
</g>
<g id="cot10a">
<ellipse class="k" cx="238.20" cy="388.20" rx="4.40" ry="3.50" transform="rotate(8.0 238.20 388.20)" style="fill:#2a2a2a"/>
<path class="k" d="M236.4 388.6 L238.2 387.8 M239.8 387.2 Q241.2 386.8 241.4 388.2 M238.8 389.9 L240.8 389.6" style="stroke:#ddd;stroke-width:.8"/>
</g>
<g id="spring9a">
<ellipse class="tw" cx="284.00" cy="390.40" rx="6.60" ry="11.20" transform="rotate(3.0 284.00 390.40)" style="fill:#fff;stroke:#262626;stroke-width:1.45"/>
<ellipse class="t" cx="284.00" cy="390.40" rx="6.60" ry="11.20" transform="rotate(3.0 284.00 390.40)" style="stroke:#aaa;stroke-width:.35"/>
<ellipse class="tw" cx="280.84" cy="390.23" rx="6.60" ry="11.20" transform="rotate(3.0 280.84 390.23)" style="fill:#fff;stroke:#262626;stroke-width:1.45"/>
<ellipse class="t" cx="280.84" cy="390.23" rx="6.60" ry="11.20" transform="rotate(3.0 280.84 390.23)" style="stroke:#aaa;stroke-width:.35"/>
<ellipse class="tw" cx="277.69" cy="390.07" rx="6.60" ry="11.20" transform="rotate(3.0 277.69 390.07)" style="fill:#fff;stroke:#262626;stroke-width:1.45"/>
<ellipse class="t" cx="277.69" cy="390.07" rx="6.60" ry="11.20" transform="rotate(3.0 277.69 390.07)" style="stroke:#aaa;stroke-width:.35"/>
<ellipse class="tw" cx="274.53" cy="389.90" rx="6.60" ry="11.20" transform="rotate(3.0 274.53 389.90)" style="fill:#fff;stroke:#262626;stroke-width:1.45"/>
<ellipse class="t" cx="274.53" cy="389.90" rx="6.60" ry="11.20" transform="rotate(3.0 274.53 389.90)" style="stroke:#aaa;stroke-width:.35"/>
<ellipse class="tw" cx="271.38" cy="389.73" rx="6.60" ry="11.20" transform="rotate(3.0 271.38 389.73)" style="fill:#fff;stroke:#262626;stroke-width:1.45"/>
<ellipse class="t" cx="271.38" cy="389.73" rx="6.60" ry="11.20" transform="rotate(3.0 271.38 389.73)" style="stroke:#aaa;stroke-width:.35"/>
<ellipse class="tw" cx="268.22" cy="389.57" rx="6.60" ry="11.20" transform="rotate(3.0 268.22 389.57)" style="fill:#fff;stroke:#262626;stroke-width:1.45"/>
<ellipse class="t" cx="268.22" cy="389.57" rx="6.60" ry="11.20" transform="rotate(3.0 268.22 389.57)" style="stroke:#aaa;stroke-width:.35"/>
<ellipse class="tw" cx="265.07" cy="389.40" rx="6.60" ry="11.20" transform="rotate(3.0 265.07 389.40)" style="fill:#fff;stroke:#262626;stroke-width:1.45"/>
<ellipse class="t" cx="265.07" cy="389.40" rx="6.60" ry="11.20" transform="rotate(3.0 265.07 389.40)" style="stroke:#aaa;stroke-width:.35"/>
<ellipse class="tw" cx="261.91" cy="389.23" rx="6.60" ry="11.20" transform="rotate(3.0 261.91 389.23)" style="fill:#fff;stroke:#262626;stroke-width:1.45"/>
<ellipse class="t" cx="261.91" cy="389.23" rx="6.60" ry="11.20" transform="rotate(3.0 261.91 389.23)" style="stroke:#aaa;stroke-width:.35"/>
<ellipse class="tw" cx="258.76" cy="389.07" rx="6.60" ry="11.20" transform="rotate(3.0 258.76 389.07)" style="fill:#fff;stroke:#262626;stroke-width:1.45"/>
<ellipse class="t" cx="258.76" cy="389.07" rx="6.60" ry="11.20" transform="rotate(3.0 258.76 389.07)" style="stroke:#aaa;stroke-width:.35"/>
<ellipse class="kw" cx="255.60" cy="388.90" rx="6.60" ry="11.20" transform="rotate(3.0 255.60 388.90)" style="stroke-width:1.25"/>
<ellipse class="t" cx="255.60" cy="388.90" rx="6.60" ry="11.20" transform="rotate(3.0 255.60 388.90)" style="stroke:#aaa;stroke-width:.35"/>
<ellipse class="k" cx="256.39" cy="388.94" rx="5.28" ry="9.30" transform="rotate(3.0 256.39 388.94)" style="stroke-width:.9"/>
<ellipse class="t" cx="258.12" cy="389.03" rx="4.09" ry="7.62" transform="rotate(3.0 258.12 389.03)" style="stroke-width:.8"/>
<ellipse class="t" cx="260.33" cy="389.15" rx="2.97" ry="6.16" transform="rotate(3.0 260.33 389.15)" style="stroke-width:.7"/>
</g>
<g id="spring9b">
<ellipse class="tw" cx="324.40" cy="541.30" rx="7.30" ry="11.80" transform="rotate(-36.4 324.40 541.30)" style="fill:#fff;stroke:#262626;stroke-width:1.45"/>
<ellipse class="t" cx="324.40" cy="541.30" rx="7.30" ry="11.80" transform="rotate(-36.4 324.40 541.30)" style="stroke:#aaa;stroke-width:.35"/>
<ellipse class="tw" cx="321.64" cy="543.33" rx="7.30" ry="11.80" transform="rotate(-36.4 321.64 543.33)" style="fill:#fff;stroke:#262626;stroke-width:1.45"/>
<ellipse class="t" cx="321.64" cy="543.33" rx="7.30" ry="11.80" transform="rotate(-36.4 321.64 543.33)" style="stroke:#aaa;stroke-width:.35"/>
<ellipse class="tw" cx="318.89" cy="545.37" rx="7.30" ry="11.80" transform="rotate(-36.4 318.89 545.37)" style="fill:#fff;stroke:#262626;stroke-width:1.45"/>
<ellipse class="t" cx="318.89" cy="545.37" rx="7.30" ry="11.80" transform="rotate(-36.4 318.89 545.37)" style="stroke:#aaa;stroke-width:.35"/>
<ellipse class="tw" cx="316.13" cy="547.40" rx="7.30" ry="11.80" transform="rotate(-36.4 316.13 547.40)" style="fill:#fff;stroke:#262626;stroke-width:1.45"/>
<ellipse class="t" cx="316.13" cy="547.40" rx="7.30" ry="11.80" transform="rotate(-36.4 316.13 547.40)" style="stroke:#aaa;stroke-width:.35"/>
<ellipse class="tw" cx="313.38" cy="549.43" rx="7.30" ry="11.80" transform="rotate(-36.4 313.38 549.43)" style="fill:#fff;stroke:#262626;stroke-width:1.45"/>
<ellipse class="t" cx="313.38" cy="549.43" rx="7.30" ry="11.80" transform="rotate(-36.4 313.38 549.43)" style="stroke:#aaa;stroke-width:.35"/>
<ellipse class="tw" cx="310.62" cy="551.47" rx="7.30" ry="11.80" transform="rotate(-36.4 310.62 551.47)" style="fill:#fff;stroke:#262626;stroke-width:1.45"/>
<ellipse class="t" cx="310.62" cy="551.47" rx="7.30" ry="11.80" transform="rotate(-36.4 310.62 551.47)" style="stroke:#aaa;stroke-width:.35"/>
<ellipse class="tw" cx="307.87" cy="553.50" rx="7.30" ry="11.80" transform="rotate(-36.4 307.87 553.50)" style="fill:#fff;stroke:#262626;stroke-width:1.45"/>
<ellipse class="t" cx="307.87" cy="553.50" rx="7.30" ry="11.80" transform="rotate(-36.4 307.87 553.50)" style="stroke:#aaa;stroke-width:.35"/>
<ellipse class="tw" cx="305.11" cy="555.53" rx="7.30" ry="11.80" transform="rotate(-36.4 305.11 555.53)" style="fill:#fff;stroke:#262626;stroke-width:1.45"/>
<ellipse class="t" cx="305.11" cy="555.53" rx="7.30" ry="11.80" transform="rotate(-36.4 305.11 555.53)" style="stroke:#aaa;stroke-width:.35"/>
<ellipse class="tw" cx="302.36" cy="557.57" rx="7.30" ry="11.80" transform="rotate(-36.4 302.36 557.57)" style="fill:#fff;stroke:#262626;stroke-width:1.45"/>
<ellipse class="t" cx="302.36" cy="557.57" rx="7.30" ry="11.80" transform="rotate(-36.4 302.36 557.57)" style="stroke:#aaa;stroke-width:.35"/>
<ellipse class="kw" cx="299.60" cy="559.60" rx="7.30" ry="11.80" transform="rotate(-36.4 299.60 559.60)" style="stroke-width:1.25"/>
<ellipse class="t" cx="299.60" cy="559.60" rx="7.30" ry="11.80" transform="rotate(-36.4 299.60 559.60)" style="stroke:#aaa;stroke-width:.35"/>
<ellipse class="k" cx="300.29" cy="559.09" rx="5.84" ry="9.79" transform="rotate(-36.4 300.29 559.09)" style="stroke-width:.9"/>
<ellipse class="t" cx="301.80" cy="557.97" rx="4.53" ry="8.02" transform="rotate(-36.4 301.80 557.97)" style="stroke-width:.8"/>
<ellipse class="t" cx="303.73" cy="556.55" rx="3.29" ry="6.49" transform="rotate(-36.4 303.73 556.55)" style="stroke-width:.7"/>
</g>
<g id="seal12">
<ellipse class="kw" cx="307.30" cy="391.20" rx="7.30" ry="11.60" transform="rotate(3.0 307.30 391.20)"/>
<ellipse class="u" cx="306.20" cy="391.10" rx="5.60" ry="9.30" transform="rotate(3.0 306.20 391.10)"/>
<path class="k" d="M298.2 384.3 L306 381.8 M298.4 395.8 L306 400.6"/>
<path class="u" d="M301 385 Q305 391 301.4 396.6"/>
<path class="u" d="M306 383.6 Q310.6 391 306.4 399 M306.2 395 L312 393.6"/>
<ellipse class="k" cx="298.60" cy="390.00" rx="4.70" ry="6.60" transform="rotate(3.0 298.60 390.00)" style="fill:#333"/>
<ellipse class="k" cx="298.00" cy="390.00" rx="2.90" ry="4.20" transform="rotate(3.0 298.00 390.00)" style="stroke:#bbb;stroke-width:.8;fill:#222"/>
<ellipse class="k" cx="297.80" cy="390.00" rx="1.00" ry="1.60" transform="rotate(3.0 297.80 390.00)" style="stroke:none;fill:#999"/>
</g>
<g id="pin4">
<rect class="kw" x="-6.2" y="-3.4" width="12.4" height="6.8" rx="1.8" ry="1.8" transform="translate(350.8 348.9) rotate(58.5)"/>
<path class="t" d="M348.7 353.2 L355.2 350.2 M349.6 354.6 L356.2 351.4"/>
</g>
<g id="seat6">
<ellipse class="kw" cx="357.40" cy="516.30" rx="7.40" ry="12.10" transform="rotate(-31.0 357.40 516.30)" style="stroke-width:1.2"/>
<ellipse class="t" cx="356.30" cy="517.60" rx="5.60" ry="9.60" transform="rotate(-31.0 356.30 517.60)"/>
<ellipse class="k" cx="355.60" cy="518.30" rx="4.60" ry="8.20" transform="rotate(-31.0 355.60 518.30)"/>
<ellipse class="t" cx="356.00" cy="518.00" rx="2.60" ry="5.60" transform="rotate(-31.0 356.00 518.00)"/>
</g>
<g id="seal11">
<path class="kw" d="M342.90 536.03 L349.28 531.89 A4.90 7.90 -33.0 0 0 340.67 518.64 L334.30 522.77"/>
<ellipse class="kw" cx="338.60" cy="529.40" rx="4.90" ry="7.90" transform="rotate(-33.0 338.60 529.40)"/>
<ellipse class="k" cx="338.60" cy="529.40" rx="4.90" ry="7.90" transform="rotate(-33.0 338.60 529.40)" style="fill:#3a3a3a"/>
<ellipse class="k" cx="339.60" cy="528.80" rx="4.90" ry="7.90" transform="rotate(-33.0 339.60 528.80)" style="stroke-width:1.4"/>
<ellipse class="k" cx="338.20" cy="529.70" rx="3.30" ry="5.60" transform="rotate(-33.0 338.20 529.70)" style="stroke:#aaa;stroke-width:.8;fill:#444"/>
<ellipse class="k" cx="337.90" cy="529.90" rx="1.90" ry="3.40" transform="rotate(-33.0 337.90 529.90)" style="stroke:#999;stroke-width:.7;fill:#222"/>
</g>
<g id="cot10b">
<path class="kw" d="M285.76 573.55 L289.53 570.91 A2.52 3.60 -35.0 0 0 285.40 565.01 L281.64 567.65"/>
<ellipse class="kw" cx="283.70" cy="570.60" rx="2.52" ry="3.60" transform="rotate(-35.0 283.70 570.60)"/>
<ellipse class="k" cx="283.70" cy="570.60" rx="1.50" ry="2.20" transform="rotate(-35.0 283.70 570.60)" style="fill:#666"/>
</g>
<g id="cap5b">
<path class="kw" d="M269.5 573.2 Q275.5 573.6 278.0 580.2 Q279.2 584.6 276.8 586.6 L270 589 Z" style="fill:#777"/>
<path class="u" d="M272 574.6 Q276.6 577 277.4 584" style="stroke:#ccc"/>
<ellipse class="kw" cx="267.40" cy="582.20" rx="6.00" ry="11.60" transform="rotate(-33.0 267.40 582.20)"/>
<ellipse class="u" cx="268.30" cy="582.00" rx="4.20" ry="8.40" transform="rotate(-33.0 268.30 582.00)"/>
<ellipse class="t" cx="268.80" cy="581.80" rx="3.00" ry="6.20" transform="rotate(-33.0 268.80 581.80)"/>
<ellipse class="k" cx="269.20" cy="581.60" rx="1.70" ry="3.60" transform="rotate(-33.0 269.20 581.60)" style="fill:#888"/>
</g>
<g id="oring2">
<ellipse class="kw" cx="330.90" cy="592.40" rx="19.20" ry="15.40" transform="rotate(28.0 330.90 592.40)" style="stroke-width:1.1"/>
<ellipse class="k" cx="331.60" cy="592.00" rx="14.60" ry="11.20" transform="rotate(28.0 331.60 592.00)" style="stroke-width:1.1"/>
<path class="t" d="M319.6 588.6 Q321.8 580.2 331.8 580.4 Q339 581.2 343 586.6"/>
</g>
<g id="stud3">
<path class="kw" d="M336.39 617.89 L317.23 640.90 A4.70 4.70 129.8 0 1 324.45 646.92 L343.61 623.91Z" style="stroke-width:1.2"/>
<path class="t" d="M335.74 619.30 L329.02 627.37 A2.6 4.70 129.8 0 0 335.63 632.87 L342.34 624.80 A2.6 4.70 129.8 0 1 335.74 619.30Z" style="fill:#b8b8b8;stroke:#333"/>
<path class="t" d="M323.26 634.29 L317.86 640.77 A2.6 4.70 129.8 0 0 324.46 646.28 L329.87 639.79 A2.6 4.70 129.8 0 1 323.26 634.29Z" style="fill:#c4c4c4;stroke:#333"/>
<path class="u" d="M335.25 620.20 L340.66 626.52 M334.42 621.20 L339.82 627.52 M333.59 622.20 L338.99 628.52 M332.75 623.19 L338.16 629.52 M331.92 624.19 L337.33 630.52 M331.09 625.19 L336.50 631.52 M330.26 626.19 L335.66 632.51 M329.43 627.19 L334.83 633.51 M322.77 635.18 L328.18 641.51 M321.94 636.18 L327.35 642.50 M321.11 637.18 L326.51 643.50 M320.28 638.18 L325.68 644.50 M319.44 639.18 L324.85 645.50 M318.61 640.18 L324.02 646.50 M317.78 641.18 L323.19 647.50" style="stroke:#888;stroke-width:.4"/>
<ellipse class="kw" cx="339.62" cy="621.36" rx="2.60" ry="4.70" transform="rotate(129.8 339.62 621.36)"/>
</g>

<!-- 20_gasket_valves.svg -->
<g id="gasket13">
<path class="kw" d="M669.0 268.2 C669.2 265.9 669.9 264.0 671.1 262.6 C672.3 261.2 674.4 260.6 676.0 260.1 C677.6 259.6 679.3 260.2 680.8 259.5 C682.3 258.8 683.5 256.4 685.0 255.6 C686.5 254.8 688.3 254.6 689.9 254.9 C691.5 255.2 693.4 256.2 694.8 257.7 C696.2 259.2 697.4 261.6 698.3 264.0 C699.2 266.4 699.5 270.0 700.4 272.3 C701.3 274.6 702.1 276.4 703.9 277.9 C705.6 279.4 708.1 280.0 710.9 281.4 C713.7 282.8 717.8 284.7 720.6 286.3 C723.4 287.9 725.6 290.0 727.6 291.2 C729.6 292.4 731.1 293.3 732.5 293.3 C733.9 293.3 734.8 292.1 736.0 291.2 C737.2 290.3 738.1 288.4 739.5 287.7 C740.9 287.0 742.6 286.6 744.4 287.0 C746.1 287.4 748.1 289.2 750.0 289.8 C751.9 290.4 753.3 289.8 755.6 290.5 C757.9 291.2 760.9 292.4 763.9 294.0 C766.9 295.6 770.2 297.6 773.7 300.3 C777.2 303.0 782.2 307.4 784.9 310.1 C787.6 312.8 788.9 314.0 789.8 316.3 C790.7 318.6 790.5 321.4 790.5 324.0 C790.5 326.6 790.2 328.7 789.6 332.0 C789.0 335.3 788.0 341.4 787.0 343.6 C786.0 345.8 784.8 345.3 783.5 345.4 C782.2 345.5 780.2 343.7 779.2 344.2 C778.2 344.7 778.1 343.6 777.2 348.2 C776.3 352.8 774.4 366.1 773.7 371.9 C773.0 377.7 772.3 378.9 773.0 383.1 C773.7 387.3 776.9 393.3 777.9 397.0 C778.9 400.7 779.5 402.8 779.3 405.4 C779.1 408.0 779.1 410.8 776.5 412.4 C773.9 414.0 766.9 414.7 763.9 415.2 C760.9 415.7 760.5 415.9 758.4 415.2 C756.3 414.5 754.7 413.0 751.4 411.0 C748.1 409.0 741.6 405.4 738.8 403.3 C736.0 401.2 735.6 400.4 734.6 398.4 C733.6 396.4 733.7 393.6 732.5 391.5 C731.3 389.4 729.0 388.2 727.6 385.9 C726.2 383.6 725.3 380.1 724.1 377.5 C722.9 374.9 722.1 372.4 720.6 370.5 C719.1 368.6 717.4 367.6 715.1 366.3 C712.8 365.0 709.5 364.3 706.7 362.8 C703.9 361.3 700.3 358.7 698.3 357.2 C696.3 355.7 696.7 354.2 694.8 353.9 C692.9 353.6 689.8 354.4 687.0 355.2 C684.2 356.0 679.8 358.3 678.0 358.6 C676.2 358.9 677.1 358.5 676.0 357.2 C674.9 355.9 672.4 353.4 671.1 351.0 C669.8 348.6 669.1 345.4 668.3 342.6 C667.5 339.8 666.6 336.6 666.2 334.2 C665.9 331.8 665.9 330.6 666.2 328.2 C666.6 325.8 668.1 323.1 668.3 319.8 C668.5 316.6 667.6 313.4 667.6 308.7 C667.6 304.0 667.9 297.3 668.3 291.9 C668.6 286.5 669.6 280.4 669.7 276.5 C669.8 272.6 668.8 270.5 669.0 268.2Z" style="stroke-width:1.05"/>
<path class="k" d="M671.8 269.5 C671.8 272.1 672.3 277.1 671.8 282.0 C671.3 286.9 669.4 292.7 669.0 299.0 C668.6 305.3 669.8 314.7 669.7 320.0 C669.6 325.3 668.3 328.2 668.3 331.0 C668.3 333.8 668.7 335.1 669.7 336.6 C670.8 338.1 673.1 340.0 674.6 340.0 C676.1 340.0 677.7 338.6 678.7 336.6 C679.7 334.6 680.6 332.1 680.8 328.2 C681.0 324.3 679.9 318.4 680.1 313.0 C680.3 307.6 681.4 301.2 682.2 296.0 C683.0 290.8 685.0 286.2 685.0 282.0 C685.0 277.8 683.2 273.8 682.2 271.0 C681.2 268.2 680.0 266.6 678.7 265.4 C677.4 264.2 675.8 263.8 674.6 264.0 C673.5 264.2 672.3 265.7 671.8 266.6 C671.3 267.5 671.8 266.9 671.8 269.5Z" style="stroke-width:.9"/>
<path class="k" d="M673.6 270.0 C673.6 272.4 674.1 277.2 673.6 282.0 C673.1 286.8 671.1 292.7 670.8 299.0 C670.4 305.3 671.6 314.7 671.5 320.0 C671.4 325.3 670.4 328.0 670.4 330.6 C670.4 333.2 670.6 334.2 671.3 335.4 C672.0 336.6 673.6 337.8 674.6 337.8 C675.6 337.8 676.3 337.0 677.0 335.4 C677.7 333.8 678.7 331.7 678.9 328.0 C679.1 324.3 678.1 318.3 678.3 313.0 C678.5 307.7 679.5 301.2 680.3 296.0 C681.1 290.8 683.0 286.1 683.0 282.0 C683.0 277.9 681.3 274.0 680.4 271.6 C679.5 269.2 678.5 268.3 677.6 267.4 C676.7 266.5 675.7 266.2 675.0 266.2 C674.3 266.2 673.8 267.0 673.6 267.6 C673.4 268.2 673.6 267.6 673.6 270.0Z" style="stroke-width:.9"/>
<ellipse class="k" cx="675.80" cy="270.30" rx="2.00" ry="3.00" transform="rotate(15.0 675.80 270.30)" style="stroke-width:1.0"/>
<ellipse class="k" cx="712.00" cy="321.50" rx="26.90" ry="35.20" transform="rotate(-12.0 712.00 321.50)" style="stroke-width:1.0"/>
<ellipse class="t" cx="712.00" cy="321.50" rx="25.40" ry="33.70" transform="rotate(-12.0 712.00 321.50)"/>
<ellipse class="k" cx="712.00" cy="321.50" rx="24.20" ry="32.40" transform="rotate(-12.0 712.00 321.50)" style="stroke-width:1.0"/>
<ellipse class="k" cx="689.20" cy="267.50" rx="4.20" ry="5.90" transform="rotate(-8.0 689.20 267.50)"/>
<ellipse class="k" cx="744.40" cy="299.20" rx="3.90" ry="5.60" transform="rotate(-8.0 744.40 299.20)"/>
<ellipse class="k" cx="783.50" cy="319.60" rx="2.80" ry="3.90" transform="rotate(-8.0 783.50 319.60)"/>
<ellipse class="k" cx="783.10" cy="339.50" rx="1.50" ry="2.10" transform="rotate(-8.0 783.10 339.50)"/>
<ellipse class="k" cx="678.50" cy="346.80" rx="3.90" ry="5.30" transform="rotate(-8.0 678.50 346.80)"/>
<ellipse class="k" cx="733.90" cy="378.90" rx="4.90" ry="6.40" transform="rotate(-10.0 733.90 378.90)"/>
<ellipse class="k" cx="772.00" cy="403.70" rx="2.80" ry="3.90" transform="rotate(-8.0 772.00 403.70)"/>
<path class="k" d="M751.4 296.1 C752.1 295.2 754.5 293.8 756.3 294.0 C758.1 294.2 759.8 296.0 762.0 297.4 C764.2 298.8 767.6 300.5 769.5 302.4 C771.4 304.3 772.4 306.0 773.2 308.6 C774.1 311.2 774.3 314.7 774.6 318.0 C774.9 321.3 775.2 323.9 775.1 328.2 C775.0 332.5 774.6 338.4 773.7 344.0 C772.9 349.6 771.4 355.1 770.0 362.0 C768.6 368.9 767.2 380.8 765.4 385.2 C763.6 389.6 760.6 386.7 759.1 388.7 C757.6 390.7 757.0 394.4 756.3 397.0 C755.5 399.6 755.4 403.4 754.6 404.6 C753.8 405.8 753.2 405.0 751.5 404.2 C749.8 403.4 746.3 401.2 744.4 399.8 C742.5 398.4 740.8 397.2 740.2 395.6 C739.6 394.0 740.4 391.6 740.9 390.0 C741.4 388.4 742.9 388.2 743.0 385.9 C743.1 383.6 742.8 379.1 741.6 376.1 C740.4 373.1 737.4 370.2 736.0 367.7 C734.6 365.2 733.1 363.8 733.2 361.2 C733.3 358.6 735.0 355.9 736.4 352.4 C737.8 348.9 740.4 343.1 741.4 340.0 C742.4 336.9 742.7 337.2 742.3 333.8 C741.9 330.4 739.5 323.4 738.8 319.8 C738.1 316.2 737.6 313.9 738.1 312.2 C738.6 310.5 739.6 310.0 741.6 309.4 C743.6 308.8 748.1 309.5 750.0 308.7 C751.9 307.9 752.5 306.0 752.8 304.5 C753.1 303.0 752.0 301.0 751.8 299.6 C751.6 298.2 750.6 297.0 751.4 296.1Z" style="stroke-width:.95"/>
<path class="k" d="M749.6 295.4 C750.8 294.3 754.4 292.2 756.6 292.2 C758.8 292.2 760.6 294.1 763.0 295.6 C765.4 297.1 769.0 299.2 771.0 301.2 C773.0 303.2 774.1 305.0 775.0 307.8 C775.9 310.6 776.1 314.6 776.4 318.0 C776.7 321.4 777.0 323.9 776.9 328.2 C776.8 332.5 776.4 338.4 775.5 344.0 C774.6 349.6 773.2 355.0 771.8 362.0 C770.4 369.0 768.6 379.0 767.2 386.0 C765.8 393.0 764.2 399.4 763.2 404.0 C762.2 408.6 762.1 412.1 761.2 413.6 C760.3 415.1 759.5 413.7 757.6 412.8 C755.7 411.9 752.8 410.1 750.0 408.4 C747.2 406.7 743.2 404.3 741.0 402.6 C738.8 400.9 737.2 400.5 736.6 398.2 C736.0 395.9 736.7 390.8 737.4 388.6 C738.1 386.4 740.6 386.9 741.0 385.0 C741.4 383.1 740.9 379.7 739.8 377.0 C738.7 374.3 735.8 371.6 734.4 369.0 C733.0 366.4 731.2 364.2 731.2 361.4 C731.2 358.6 733.0 355.6 734.4 352.0 C735.8 348.4 738.4 343.0 739.4 340.0 C740.4 337.0 740.7 337.2 740.3 333.8 C739.9 330.4 737.5 323.6 736.8 319.8 C736.1 316.0 735.6 313.2 736.2 311.2 C736.8 309.2 738.5 308.3 740.6 307.6 C742.7 306.9 746.9 307.5 748.6 306.9 C750.3 306.3 750.6 305.1 750.8 303.8 C751.0 302.5 749.8 300.4 749.6 299.0 C749.4 297.6 748.4 296.5 749.6 295.4Z" style="stroke-width:.9"/>
<path class="t" d="M774 329 L761.8 413"/>
</g>
<g id="valve8">
<ellipse class="kw" cx="620.90" cy="321.40" rx="8.60" ry="14.00" transform="rotate(-37.0 620.90 321.40)" style="stroke-width:1.05"/>
<ellipse class="u" cx="620.20" cy="322.00" rx="7.20" ry="12.40" transform="rotate(-37.0 620.20 322.00)"/>
<ellipse class="u" cx="619.00" cy="323.00" rx="5.20" ry="9.00" transform="rotate(-37.0 619.00 323.00)"/>
<path class="kw" d="M544.7 374.2 L610.9 324.1 Q613.6 321.6 613.6 317.6 L621.6 326.6 Q617.6 327 615.5 328.7 L548.7 378.2 Z" style="stroke-width:1.0"/>
<path class="u" d="M610.9 324.1 L615.5 328.7 M612.6 322.4 L617.6 327.4"/>
<path class="t" d="M551.2 369.4 L555.0 373.6 M555.4 366.2 L559.4 370.4 M547 372.6 L550.6 376.6"/>
<path class="k" d="M546.3 373.0 L549.6 376.4" style="stroke-width:1.3"/>
</g>
<g id="valve7">
<ellipse class="kw" cx="630.30" cy="402.90" rx="10.20" ry="13.00" transform="rotate(3.0 630.30 402.90)" style="stroke-width:1.05"/>
<ellipse class="u" cx="629.90" cy="402.60" rx="7.40" ry="10.20" transform="rotate(3.0 629.90 402.60)"/>
<ellipse class="u" cx="629.60" cy="402.40" rx="6.00" ry="8.60" transform="rotate(3.0 629.60 402.40)"/>
<path class="kw" d="M561.6 397.6 L614.5 399.4 L626.4 400.0 L625.2 405.1 L614.3 404.7 L565.3 403.2 L561.2 398.2 Z" style="stroke-width:.95"/>
<path class="t" d="M626.4 400.0 Q629.4 398.6 631.7 394.9 M625.2 405.1 Q626.6 406 627.2 408"/>
<path class="u" d="M614.6 399.4 L614.3 404.7 M567 398 L568 403.3"/>
<path class="k" d="M561.4 397.4 L568 397.6" style="stroke-width:1.0"/>
</g>

<!-- 30_head.svg -->
<g id="head1">
<path class="kw" d="M366.7 357.3 C363.3 355.7 369.3 352.9 371.1 351.7 C372.9 350.5 379.3 348.5 382.3 347.3 C385.3 346.1 393.6 342.4 397.1 341.0 C400.6 339.6 409.0 336.1 412.0 335.0 C415.0 333.9 421.0 331.8 423.2 331.3 C425.4 330.8 428.6 330.9 430.6 330.9 C432.6 330.9 437.6 330.8 440.3 331.6 C443.0 332.4 450.0 335.3 453.8 337.5 C457.6 339.7 468.4 347.5 472.6 350.1 C476.8 352.7 487.2 358.4 490.2 360.1 C493.2 361.8 496.5 363.9 498.0 364.8 C499.5 365.7 502.1 364.8 503.0 368.0 C503.9 371.2 511.6 390.6 506.0 392.0 C500.4 393.4 467.4 383.1 455.0 380.0 C442.6 376.9 410.3 367.6 400.0 365.0 C389.7 362.4 370.1 358.9 366.7 357.3Z"/>
<path class="k" d="M377.1 348.8 C379.2 348.8 386.1 348.1 389.7 348.8 C393.3 349.5 396.2 351.4 398.6 353.2 C401.0 355.0 402.9 358.8 403.8 359.9 M386.7 345.4 C389.2 345.7 397.9 346.2 401.6 347.3 C405.3 348.4 407.3 350.1 409.0 351.7 C410.7 353.3 411.6 355.3 412.0 356.9 C412.4 358.5 411.4 360.6 411.3 361.4 M394.9 342.1 C397.0 342.5 404.1 343.2 407.5 344.3 C410.9 345.4 413.3 347.4 415.0 348.8 C416.7 350.2 417.2 352.0 417.6 352.6 M401.6 339.1 C403.6 339.4 410.1 340.0 413.5 341.0 C416.9 342.0 419.8 344.2 421.7 345.1 C423.6 346.0 424.1 346.3 424.6 346.5 M408.3 336.5 C410.1 336.8 416.3 337.5 419.4 338.4 C422.5 339.3 425.6 341.5 426.9 342.1 M414.2 334.3 C415.8 334.5 421.4 334.6 423.9 335.4 C426.4 336.2 428.2 338.5 429.1 339.1 M419.4 332.4 C420.6 332.5 425.2 332.6 426.9 333.2 C428.6 333.8 429.3 335.6 429.8 336.1" style="stroke-width:.9"/>
<path class="u" d="M381.5 347.4 C383.5 347.5 390.3 347.4 393.6 348.2 C396.9 349.0 399.2 350.2 401.4 352.0 C403.6 353.8 405.7 357.7 406.6 358.8 M390.6 344.0 C392.9 344.3 400.9 345.0 404.4 346.0 C407.9 347.0 410.1 348.7 411.8 350.2 C413.5 351.7 414.1 354.2 414.6 355.0 M398.2 340.8 C400.2 341.1 407.1 341.8 410.4 342.8 C413.7 343.8 416.4 345.9 418.2 347.0 C420.0 348.1 420.5 349.2 421.0 349.6 M405.0 338.0 C406.9 338.3 413.2 338.9 416.4 339.8 C419.6 340.7 422.9 343.0 424.2 343.6 M411.2 335.6 C412.9 335.8 418.8 336.2 421.6 337.0 C424.4 337.8 426.9 340.0 428.0 340.6 M385.0 346.2 C387.1 346.4 394.2 346.7 397.6 347.6 C401.0 348.5 403.4 349.9 405.4 351.6 C407.4 353.3 408.7 356.8 409.4 357.8 M393.0 343.2 C395.2 343.5 402.6 344.2 406.0 345.2 C409.4 346.2 412.2 348.7 413.4 349.4" style="stroke:#555"/>
<path class="k" d="M430.6 331.3 C430.4 332.7 430.5 337.4 429.5 339.9 C428.5 342.4 427.0 344.8 424.6 346.5 C422.2 348.2 417.1 348.9 415.0 350.3 C412.9 351.7 412.6 352.9 412.0 354.7 C411.4 356.5 411.4 360.3 411.3 361.4" style="stroke-width:.9"/>
<path class="u" d="M366.7 357.3 Q368.6 353.6 371.1 351.7 M369.0 357.0 L372.6 352.4 L373.6 357.6"/>
<path class="u" d="M397.6 357 Q399 352 398.4 349 M401 358 Q402.6 354 402 351 M405 359.4 Q406.6 355 406.2 352"/>
<path class="kw" d="M431.2 331.6 C432.2 331.1 438.0 330.7 440.3 331.3 C442.6 331.9 450.6 335.6 453.8 337.5 C457.0 339.4 469.0 347.8 472.6 350.1 C476.2 352.4 487.7 358.6 490.2 360.1 C492.7 361.6 497.4 364.1 498.0 364.8 C498.6 365.6 497.2 367.1 496.4 367.6 C495.6 368.1 491.0 369.2 489.6 369.4 C488.2 369.6 485.6 369.9 482.6 369.6 C479.6 369.3 464.7 367.2 460.0 366.4 C455.3 365.6 440.4 362.5 436.0 361.6 C431.6 360.7 418.4 358.1 416.0 357.6 C413.6 357.1 411.9 356.7 411.6 356.2 C411.3 355.7 411.9 353.9 412.8 353.0 C413.7 352.1 419.2 348.3 420.8 347.2 C422.4 346.1 427.5 342.7 428.4 341.6 C429.3 340.5 429.9 337.6 430.2 336.6 C430.5 335.6 430.2 332.1 431.2 331.6Z" style="stroke-width:.95"/>
<path class="t" d="M411.4 357 L410.6 362.4 M498 365.4 L498.6 371 M489.6 369.6 L490.4 375.8"/>
<path class="u" d="M416 357.6 L416.6 364 M431.4 331.6 Q428.6 333.2 428.8 336.4"/>
<path class="k" d="M437.5 348.6 C437.8 347.8 439.7 345.3 441.0 344.6 C442.3 343.9 445.8 343.2 447.5 343.2 C449.2 343.2 452.3 344.2 454.0 344.8 C455.7 345.4 458.4 346.7 460.0 347.6 C461.6 348.5 464.5 350.2 466.0 351.2 C467.5 352.2 470.4 354.1 471.3 355.1 C472.2 356.1 473.0 357.8 472.9 358.6 C472.8 359.4 471.3 360.4 470.4 360.8 C469.5 361.2 467.7 361.5 466.3 361.4 C464.9 361.3 461.7 360.6 460.0 360.2 C458.3 359.8 455.5 358.8 453.8 358.2 C452.1 357.6 448.5 356.3 447.0 355.6 C445.5 354.9 443.6 353.8 442.5 353.2 C441.4 352.6 439.3 351.4 438.6 350.8 C437.9 350.2 437.2 349.4 437.5 348.6Z" style="stroke-width:1.0"/>
<path class="t" d="M440.6 349.0 C441.0 348.7 442.5 346.9 443.6 346.4 C444.7 345.9 447.1 345.5 448.6 345.6 C450.1 345.7 453.3 346.8 455.0 347.4 C456.7 348.0 459.5 349.4 461.0 350.2 C462.5 351.0 465.2 352.7 466.4 353.6 C467.6 354.5 469.4 355.9 470.0 356.6 C470.6 357.3 470.5 358.5 470.6 358.8"/>
<path class="u" d="M456.6 347.6 L452 357.6 M459.6 349 L455.4 358.6 M462.6 351.4 L462.6 361 M465.2 353 L465.4 361.4"/>
<ellipse class="k" cx="438.60" cy="336.00" rx="3.50" ry="1.90" transform="rotate(8.0 438.60 336.00)" style="stroke-width:.9"/>
<ellipse class="k" cx="420.90" cy="354.80" rx="3.60" ry="2.10" transform="rotate(8.0 420.90 354.80)" style="stroke-width:.9"/>
<ellipse class="k" cx="487.60" cy="364.20" rx="3.50" ry="2.10" transform="rotate(8.0 487.60 364.20)" style="stroke-width:.9"/>
<path class="u" d="M424.6 356.6 L452 360.6 L470 362.6"/>
<path class="kw" d="M503.0 368.0 L524.0 385.2 L535.3 395.2 L544.0 402.7 L549.0 407.6 L549.4 411.6 L546.6 416.2 L542.8 420.0 L542.2 431.0 L541.5 442.6 L536.5 445.1 L535.9 452.0 L535.3 458.9 L532.8 470.2 L535.3 472.7 L535.0 478.0 L535.3 482.5 L536.8 489.0 L538.4 495.1 L537.8 500.1 L530.0 503.8 L522.7 507.0 L515.2 506.4 L505.2 506.4 L493.9 512.6 L488.0 500.0 L500.0 470.0 L500.0 420.0Z" style="stroke-width:.95"/>
<path class="u" d="M512.6 402 L515.4 418 Q517.6 432 516.6 447 L514.8 470 L511.6 489 M521.6 400 L523.4 415 Q525 430 524 446 L522 470 L519.4 487 M527 425 L526.6 446 L524.6 470 L522 490" style="stroke:#666"/>
<path class="t" d="M524 385.2 L523 400 M530.4 391 L528.4 404 M536.6 396.4 L534 405 M509.6 447.6 L525.6 443.4 L536.5 445.1 M508.8 470 L523 466.6 L532.8 470.2 M511 432.6 L524.6 428.4 M541.6 421.6 L530 425.6 L527 425" style="stroke:#444"/>
<path class="t" d="M507.6 484 Q512 486.6 513.4 492.6 Q513 498 506.6 500.6 M501 497.4 L512 493"/>
<path class="u" d="M526.4 406.2 Q533 400.6 541 402.2 M527 423.4 Q533 426 538.8 423"/>
<ellipse class="kw" cx="531.50" cy="414.60" rx="6.30" ry="9.80" transform="rotate(8.0 531.50 414.60)" style="stroke-width:.8;stroke:#333"/>
<ellipse class="k" cx="531.60" cy="414.60" rx="2.80" ry="4.00" transform="rotate(8.0 531.60 414.60)" style="stroke-width:.9"/>
<ellipse class="kw" cx="519.00" cy="498.20" rx="6.30" ry="8.80" transform="rotate(5.0 519.00 498.20)" style="stroke-width:.9"/>
<ellipse class="k" cx="519.00" cy="498.20" rx="3.10" ry="4.40" transform="rotate(5.0 519.00 498.20)" style="stroke-width:.9"/>
<path class="t" d="M513.4 494 Q508 494.6 505.4 499 M525.2 497 L534 493.4 L536.6 489 M524.4 504.2 L533.8 500.6 L537.8 500.1"/>
<path class="kw" d="M503.3 367.6 L504.4 380.0 L506.6 392.0 L509.4 404.0 L512.0 414.0 L521.2 414.0 L521.8 400.0 L523.4 385.0 L525.9 368.2Z" style="stroke:none"/>
<path class="k" d="M503.3 367.6 L505.0 382 L509.6 404 L512 414 M525.9 368.2 L523.2 386 L521.6 402 L521.2 414" style="stroke-width:.95"/>
<path class="u" d="M508.4 372.6 L512.4 402 M519.6 373 L518 402"/>
<ellipse class="kw" cx="514.60" cy="367.60" rx="11.30" ry="5.60" transform="rotate(2.0 514.60 367.60)" style="stroke-width:1.0"/>
<ellipse class="u" cx="514.60" cy="367.40" rx="10.20" ry="4.80" transform="rotate(2.0 514.60 367.40)"/>
<ellipse class="k" cx="514.70" cy="367.70" rx="7.40" ry="3.50" transform="rotate(2.0 514.70 367.70)" style="stroke-width:1.1"/>
<path class="t" d="M500.4 374 L498.8 380 L501.6 385.4 M501.4 368 L499.6 374.6"/>
<path class="kw" d="M331.3 390.2 C332.7 386.2 335.1 378.2 336.3 375.1 C337.5 372.0 338.9 369.7 340.1 368.2 C341.3 366.7 343.0 365.6 345.1 364.5 C347.2 363.4 352.1 361.6 355.1 360.7 C358.1 359.8 363.4 358.2 366.4 357.8 C369.4 357.4 373.1 357.5 376.4 357.8 C379.7 358.1 385.8 359.2 390.2 360.1 C394.6 361.0 402.6 362.7 407.7 363.9 C412.8 365.1 421.2 367.4 426.5 368.9 C431.8 370.4 441.3 373.3 445.3 374.5 C449.3 375.7 451.2 376.4 455.0 377.6 C458.8 378.8 467.9 381.9 472.6 383.0 C477.3 384.1 485.4 384.5 488.9 385.2 C492.4 385.9 495.9 386.6 497.7 387.7 C499.4 388.8 500.6 390.9 501.4 392.7 C502.2 394.4 503.0 397.9 503.3 400.2 C503.6 402.5 503.6 406.9 503.6 409.0 C503.6 411.1 503.1 412.9 503.3 415.0 C503.5 417.1 504.2 421.3 505.2 423.8 C506.2 426.3 509.3 428.9 510.2 432.6 C511.1 436.3 511.5 445.5 511.5 450.1 C511.5 454.7 510.7 460.5 510.2 465.2 C509.7 469.9 508.7 479.8 507.7 484.0 C506.7 488.2 504.4 493.2 503.3 495.1 C502.2 497.0 502.0 496.9 500.2 497.6 C498.4 498.3 492.1 499.2 490.2 500.1 C488.3 501.0 486.7 502.5 486.4 503.8 C486.1 505.1 487.4 508.1 488.4 509.4 C489.4 510.7 493.4 511.2 493.3 513.2 C493.2 515.2 489.8 520.7 488.0 524.0 C486.2 527.3 482.1 534.9 480.1 537.1 C478.1 539.3 475.8 539.5 473.9 539.6 C472.0 539.7 468.1 538.5 466.3 537.7 C464.5 536.9 463.9 535.8 461.3 533.9 C458.7 532.0 451.2 526.4 447.5 523.9 C443.8 521.4 438.8 518.0 435.0 516.4 C431.2 514.8 425.0 514.0 420.3 512.6 C415.6 511.2 406.4 508.2 401.5 506.4 C396.6 504.6 389.6 501.6 385.2 499.5 C380.8 497.4 374.8 493.7 370.1 491.3 C365.4 488.9 355.7 485.1 351.3 482.5 C346.9 479.9 341.6 475.5 338.8 472.7 C336.0 469.9 333.0 465.9 331.3 462.7 C329.6 459.5 327.7 455.4 326.9 450.1 C326.1 444.8 325.7 431.6 325.6 425.1 C325.5 418.6 325.5 408.7 326.3 403.8 C327.1 398.9 329.9 394.2 331.3 390.2Z" style="stroke-width:1.15"/>
<path class="t" d="M504.6 428.6 L506.4 436.0 L507.2 450.1 L506.4 465.2 L504.2 482.5 L501.6 492.6 L500.2 497.6 L503.3 495.1 L507.7 484.0 L510.2 465.2 L511.5 450.1 L510.2 432.6 L507.0 426.6Z" style="fill:#c6c6c6;stroke:#222;stroke-width:.7"/>
<path class="u" d="M506.6 434 L510.6 436 M507.2 444 L511.2 446 M507.2 454 L511.2 456 M506.6 464 L510.4 466 M505.4 474 L509.2 476 M504 483 L507.8 485 M507 439 L511 441 M507.2 449 L511.4 451 M507 459 L511 461 M506 469 L510 471 M504.8 479 L508.6 481" style="stroke:#888;stroke-width:.4"/>
<path class="t" d="M497.0 386.7 L501.4 396.8 L503.6 408.1 L503.6 415.7 L505.9 415.7 L506.5 406.9 L504.0 394.2 L498.9 385.4Z" style="fill:#c6c6c6;stroke:#222;stroke-width:.6"/>
<path class="t" d="M489.6 514.4 L485.0 523.0 L480.6 532.7 L477.0 538.8 L480.1 537.1 L488.0 524.0 L493.3 513.2Z" style="fill:#c6c6c6;stroke:#222;stroke-width:.7"/>
<path class="k" d="M498.6 393.6 C498.9 394.7 500.4 399.5 500.6 402.0 C500.8 404.5 500.3 409.9 500.0 412.0 C499.7 414.1 498.4 416.3 498.4 418.0 C498.4 419.7 499.5 423.2 500.2 425.0 C500.9 426.8 502.7 428.0 503.3 431.3 C503.9 434.6 504.5 445.6 504.6 450.1 C504.7 454.6 504.3 460.9 503.9 465.2 C503.5 469.5 502.1 478.7 501.4 482.5 C500.7 486.3 499.2 492.3 498.9 493.8" style="stroke-width:.8"/>
<path class="t" d="M495.6 396.0 C495.8 397.1 497.2 401.6 497.4 404.0 C497.6 406.4 497.1 411.9 496.8 414.0 C496.5 416.1 495.3 418.3 495.4 420.0 C495.5 421.7 496.9 425.3 497.6 427.0 C498.3 428.7 500.0 429.9 500.6 433.0 C501.2 436.1 501.7 445.7 501.8 450.0 C501.9 454.3 501.4 460.7 501.0 465.0 C500.6 469.3 499.3 478.4 498.6 482.0 C497.9 485.6 497.1 489.9 496.0 492.0 C494.9 494.1 492.0 496.5 490.6 497.6 C489.2 498.7 486.3 499.7 485.4 500.6 C484.5 501.5 483.7 502.9 483.6 504.0 C483.5 505.1 484.8 508.3 485.0 509.0"/>
<path class="k" d="M333.2 391.0 C333.9 389.0 336.8 379.3 338.0 376.4 C339.2 373.5 340.5 371.4 341.6 370.0 C342.7 368.6 344.0 367.6 346.0 366.6 C348.0 365.6 352.7 363.7 355.6 362.8 C358.5 361.9 363.7 360.4 366.6 360.0 C369.5 359.6 372.9 359.7 376.2 360.0 C379.5 360.3 385.6 361.4 390.0 362.3 C394.4 363.2 402.4 364.9 407.4 366.1 C412.4 367.3 420.7 369.6 426.0 371.1 C431.3 372.6 440.9 375.5 445.0 376.7 C449.1 377.9 451.2 378.7 455.0 379.9 C458.8 381.1 467.7 384.1 472.4 385.2 C477.1 386.2 485.1 386.8 488.4 387.4 C491.7 388.0 494.4 388.7 495.8 389.6 C497.2 390.5 498.2 393.0 498.6 393.6" style="stroke-width:.8"/>
<path class="k" d="M333.2 391.0 C332.5 392.9 329.0 399.6 328.2 404.4 C327.4 409.2 327.4 418.7 327.5 425.0 C327.6 431.3 328.0 444.4 328.8 449.6 C329.6 454.8 331.4 458.7 333.0 461.8 C334.6 464.9 337.5 468.7 340.2 471.4 C342.9 474.1 350.5 479.5 352.2 480.8" style="stroke-width:.8"/>
<path class="u" d="M335.6 392.0 C336.2 390.1 338.9 381.1 340.0 378.4 C341.1 375.7 342.4 373.9 343.4 372.6 C344.4 371.3 345.6 370.4 347.4 369.4 C349.2 368.4 353.7 366.5 356.4 365.6 C359.1 364.7 364.3 363.4 367.0 363.0 C369.7 362.6 372.8 362.7 376.0 363.0 C379.2 363.3 385.3 364.4 389.6 365.2 C393.9 366.0 402.0 367.8 407.0 369.0 C412.0 370.2 420.3 372.5 425.6 374.0 C430.9 375.5 440.5 378.4 444.6 379.6 C448.7 380.8 450.8 381.6 454.6 382.8 C458.4 384.0 467.4 386.9 472.0 388.0 C476.6 389.1 485.4 390.1 487.6 390.4" style="stroke:#555"/>
<path class="k" d="M352.2 480.6 C354.8 481.8 366.1 487.0 370.8 489.4 C375.5 491.8 381.4 495.3 385.8 497.4 C390.2 499.5 397.1 502.6 402.0 504.4 C406.9 506.2 416.0 509.2 420.8 510.6 C425.6 512.0 432.1 513.0 436.0 514.6 C439.9 516.2 444.8 519.4 448.4 521.8 C452.0 524.2 459.4 529.9 462.0 531.8 C464.6 533.7 465.4 534.8 467.0 535.6 C468.6 536.4 472.1 537.8 473.6 537.4 C475.1 537.0 477.0 533.4 477.6 532.7" style="stroke-width:.8"/>
<path class="k" d="M345.2 404.0 C345.8 401.9 348.7 391.3 350.0 388.0 C351.3 384.7 353.2 381.2 354.6 379.4 C356.0 377.6 358.5 375.4 360.6 374.4 C362.7 373.4 367.4 371.9 370.0 371.6 C372.6 371.3 376.8 371.6 380.2 372.0 C383.6 372.4 390.9 373.6 395.2 374.5 C399.5 375.4 407.8 377.5 412.8 378.9 C417.8 380.3 427.4 383.6 432.8 385.2 C438.2 386.8 448.0 389.3 453.0 391.0 C458.0 392.7 466.4 396.1 470.0 397.6 C473.6 399.1 477.8 401.5 480.0 402.6 C482.2 403.7 485.1 405.1 486.4 406.0 C487.7 406.9 489.5 407.7 489.8 409.6 C490.1 411.5 489.0 416.5 488.6 420.0 C488.2 423.5 487.5 432.0 487.0 436.0 C486.5 440.0 485.7 446.2 485.1 450.1 C484.5 454.0 483.2 461.5 482.6 465.2 C482.0 468.9 481.1 474.4 480.6 478.0 C480.1 481.6 479.6 488.3 479.0 492.0 C478.4 495.7 476.4 504.1 476.0 506.0" style="stroke-width:.9"/>
<path class="t" d="M347.4 404.6 C348.0 402.5 350.8 392.1 352.0 389.0 C353.2 385.9 355.1 382.7 356.4 381.0 C357.7 379.3 360.1 377.4 362.0 376.4 C363.9 375.4 368.0 374.1 370.4 373.8 C372.8 373.5 376.7 373.8 380.0 374.2 C383.3 374.6 390.7 375.8 395.0 376.7 C399.3 377.6 407.4 379.7 412.4 381.1 C417.4 382.5 427.0 385.8 432.4 387.4 C437.8 389.0 447.7 391.6 452.6 393.2 C457.5 394.8 465.5 398.1 469.0 399.6 C472.5 401.1 476.9 403.5 479.0 404.6 C481.1 405.7 484.0 407.5 484.8 408.0"/>
<ellipse class="k" cx="348.60" cy="378.50" rx="3.30" ry="3.00" style="stroke-width:.95"/>
<ellipse class="k" cx="489.80" cy="396.80" rx="3.30" ry="3.30" style="stroke-width:.95"/>
<ellipse class="k" cx="337.50" cy="455.80" rx="3.50" ry="3.50" style="stroke-width:.95"/>
<ellipse class="k" cx="471.30" cy="529.50" rx="3.50" ry="3.30" style="stroke-width:.95"/>
<path class="u" d="M358.6 378.6 Q357 386 359 396 L356.6 404 M384.6 376.4 Q392 380 397 388"/>
<ellipse class="kw" cx="374.40" cy="384.60" rx="7.60" ry="9.50" transform="rotate(10.0 374.40 384.60)" style="stroke-width:.8;stroke:#333"/>
<ellipse class="k" cx="374.60" cy="385.00" rx="3.50" ry="5.00" transform="rotate(10.0 374.60 385.00)" style="stroke-width:.95"/>
<path class="u" d="M381.6 382 L404 378.6 L418 381 M380.6 391 L398 394 M362 392.6 L372.6 395.6 L380 400.6 M362.4 398 L370 399.6"/>
<ellipse class="k" cx="354.70" cy="432.90" rx="12.00" ry="21.60" transform="rotate(-8.0 354.70 432.90)" style="stroke-width:1.0;fill:#fff"/>
<ellipse class="u" cx="355.00" cy="432.80" rx="10.40" ry="19.40" transform="rotate(-8.0 355.00 432.80)" style="stroke:#555"/>
<ellipse class="k" cx="355.40" cy="432.50" rx="8.20" ry="16.80" transform="rotate(-8.0 355.40 432.50)" style="stroke-width:1.0"/>
<ellipse class="t" cx="356.60" cy="432.90" rx="6.30" ry="14.00" transform="rotate(-8.0 356.60 432.90)"/>
<path class="u" d="M337.6 407.6 Q335.4 420 338.8 431.3 Q342 444 347.6 452.6 M341.6 409 Q339.6 420 342.4 430"/>
<path class="k" d="M347.6 452.6 Q350 458.6 355.4 458.4 L358.6 456 M350 455.4 Q348 459.4 351.4 461.6 Q356 462.4 357.6 458.6 M353.4 411.6 Q360 408 366 411.6 L369 418" style="stroke-width:.85"/>
<path class="t" d="M354 411 Q358 413 360 418 M362 420 Q366 424 366.6 430 M363.6 436 Q368 440 369.6 446 L367.6 452"/>
<path class="t" d="M371.4 410.0 C372.3 407.8 375.3 407.6 377.0 407.4 C378.7 407.2 382.5 407.5 384.0 408.2 C385.5 408.9 388.0 410.1 388.3 412.5 C388.6 414.9 387.0 422.7 386.6 426.0 C386.2 429.3 385.6 434.1 385.2 437.6 C384.8 441.1 383.9 448.3 383.6 452.0 C383.3 455.7 383.1 462.7 382.7 465.2 C382.3 467.7 382.0 469.7 380.6 470.4 C379.2 471.1 373.9 470.6 372.0 470.6 C370.1 470.6 367.1 471.6 366.4 470.2 C365.7 468.8 366.4 462.3 366.6 460.0 C366.8 457.7 367.1 455.6 367.6 452.6 C368.1 449.6 369.7 441.4 370.1 437.6 C370.5 433.8 370.4 427.7 370.6 424.0 C370.8 420.3 370.5 412.2 371.4 410.0Z" style="stroke-width:.7;fill:#fff"/>
<ellipse class="t" cx="382.00" cy="422.60" rx="4.30" ry="6.30" transform="rotate(18.0 382.00 422.60)" style="stroke-width:.75"/>
<ellipse class="t" cx="377.00" cy="458.90" rx="4.40" ry="6.00" transform="rotate(18.0 377.00 458.90)" style="stroke-width:.75"/>
<path class="u" d="M388.3 412.5 L392 409.4 M385.4 437 L390 434 L390 470 M382.7 465.2 L388.6 462.4"/>
<path class="t" d="M393.4 418.0 q-2.6 5.6 0.6 12.6 M395.4 418.9 q-2.6 5.6 0.6 12.6 M397.4 419.8 q-2.6 5.6 0.6 12.6 M399.4 420.7 q-2.6 5.6 0.6 12.6 M401.4 421.6 q-2.6 5.6 0.6 12.6 M403.4 422.5 q-2.6 5.6 0.6 12.6" style="stroke:#444"/>
<ellipse class="u" cx="403.40" cy="432.60" rx="7.60" ry="14.60" transform="rotate(14.0 403.40 432.60)" style="stroke:#555"/>
<ellipse class="u" cx="404.60" cy="433.20" rx="5.40" ry="11.40" transform="rotate(14.0 404.60 433.20)" style="stroke:#555"/>
<path class="u" d="M391.6 444 L399 450.6 L402 466 L390.4 462 M392 455.6 L401 459.6 M390.4 470 L402.6 476.6" style="stroke:#555"/>
<path class="kw" d="M392.1 409.4 L396 406.6 L428 425.6 L424 429.4 Z" style="stroke-width:.85"/>
<path class="u" d="M412 397.4 L420 395.6 M420.6 402 L437 397.8"/>
<path class="k" d="M420.0 397.6 l1.6 6.4 M422.2 397.8 l1.6 6.4 M424.4 397.9 l1.6 6.4 M426.6 398.1 l1.6 6.4 M428.8 398.2 l1.6 6.4 M431.0 398.4 l1.6 6.4 M433.2 398.5 l1.6 6.4 M435.4 398.7 l1.6 6.4" style="stroke-width:1.1"/>
<ellipse class="kw" cx="415.30" cy="406.90" rx="7.50" ry="10.00" transform="rotate(-8.0 415.30 406.90)" style="stroke-width:.95"/>
<ellipse class="u" cx="415.40" cy="407.00" rx="5.60" ry="7.90" transform="rotate(-8.0 415.40 407.00)"/>
<ellipse class="k" cx="415.60" cy="407.40" rx="3.40" ry="4.90" transform="rotate(-8.0 415.60 407.40)" style="stroke-width:.9"/>
<ellipse class="k" cx="415.70" cy="407.60" rx="1.60" ry="2.20" transform="rotate(-8.0 415.70 407.60)" style="fill:#222"/>
<path class="kw" d="M426.6 406.8 L452 399.6 L486 408.6 L486 418 L437.6 424.6 Z" style="stroke:none"/>
<path class="k" d="M426.8 406.4 L447.4 399.4 M436.6 426.4 L457.6 419" style="stroke-width:.85"/>
<ellipse class="kw" cx="430.30" cy="416.30" rx="6.60" ry="10.60" transform="rotate(-22.0 430.30 416.30)" style="stroke-width:.95"/>
<ellipse class="k" cx="430.40" cy="416.40" rx="3.40" ry="5.50" transform="rotate(-22.0 430.40 416.40)" style="stroke-width:.9"/>
<path class="kw" d="M438.6 424.6 L458.0 418.6 L476.0 412.0 L484.6 408.4 L488.6 410.6 L487.6 425.0 L485.1 450.1 L482.6 465.2 L480.6 478.0 L470.0 482.0 L452.0 490.0 L440.0 470.0Z" style="stroke:none"/>
<path class="t" d="M447.4 399.4 L468 404.6 L485.3 406.1 L488.6 410 M437 427 L484.6 409.4 M438 430 L484 412.6 M439.6 432.6 L455 427.4 M452.6 421.6 L452.6 426.6 L455 429.6" style="stroke:#444"/>
<path class="u" d="M482.4 412 L480.6 440 L478 462 L474.6 478" style="stroke:#666"/>
<path class="u" d="M468 404.6 L466 414.6 M476 405.6 L474.6 412.6"/>
<path class="k" d="M440.7 419.1 L485.3 406.1 Q488 406.6 488.1 408.9 L487 436 L486.2 456.3 L483 466 M452.8 424.7 L483.5 415.4 M453.7 429.4 L483.2 420" style="stroke-width:.9"/>
<path class="kw" d="M409.1 434.9 C410.5 432.4 413.6 432.1 416.6 431.2 C419.6 430.3 427.7 429.0 431.4 428.4 C435.1 427.8 441.3 426.8 444.0 426.4 C446.7 426.0 450.6 424.8 451.9 425.2 C453.2 425.6 452.0 428.6 453.7 429.4 C455.4 430.2 462.6 430.3 464.9 431.2 C467.2 432.1 469.5 434.0 470.6 436.0 C471.7 438.0 472.8 442.5 473.0 446.0 C473.2 449.5 472.8 458.0 472.4 462.0 C472.0 466.0 470.9 472.8 470.0 476.0 C469.1 479.2 467.7 483.7 466.0 486.0 C464.3 488.3 460.1 492.8 457.5 493.5 C454.9 494.2 449.2 491.4 446.3 491.6 C443.4 491.8 438.9 494.1 436.0 495.0 C433.1 495.9 426.5 497.1 424.9 498.1 C423.3 499.1 425.9 502.4 424.0 502.7 C422.1 503.0 413.7 501.5 411.0 500.0 C408.3 498.5 404.7 494.0 403.6 491.6 C402.5 489.2 402.5 485.7 402.6 482.3 C402.7 478.9 403.5 470.3 404.0 466.0 C404.5 461.7 405.3 454.1 406.0 450.0 C406.7 445.9 407.7 437.4 409.1 434.9Z" style="stroke-width:.95"/>
<path class="u" d="M412.6 437.0 C413.5 436.5 416.4 434.4 419.0 433.6 C421.6 432.8 428.7 431.4 432.0 430.8 C435.3 430.2 441.6 429.3 444.0 429.0 C446.4 428.7 448.9 428.0 450.0 428.4 C451.1 428.8 450.9 431.3 452.6 432.0 C454.3 432.7 460.6 433.0 462.6 433.8 C464.6 434.6 466.6 436.2 467.6 438.0 C468.6 439.8 469.8 443.8 470.0 447.0 C470.2 450.2 469.8 458.3 469.4 462.0 C469.0 465.7 467.8 472.1 467.0 475.0 C466.2 477.9 463.9 482.8 463.4 484.0" style="stroke:#555"/>
<ellipse class="k" cx="449.00" cy="458.40" rx="21.40" ry="29.40" transform="rotate(14.0 449.00 458.40)" style="stroke-width:.95"/>
<ellipse class="u" cx="449.20" cy="458.40" rx="19.40" ry="27.20" transform="rotate(14.0 449.20 458.40)" style="stroke:#555"/>
<ellipse class="k" cx="449.00" cy="458.60" rx="17.20" ry="24.40" transform="rotate(14.0 449.00 458.60)" style="stroke-width:.85"/>
<ellipse class="u" cx="450.00" cy="459.00" rx="14.80" ry="21.60" transform="rotate(14.0 450.00 459.00)" style="stroke:#555"/>
<path class="k" d="M436.6 441.6 Q444 433.6 452 432.6" style="stroke-width:1.6;stroke:#777"/>
<ellipse class="k" cx="430.50" cy="447.00" rx="3.00" ry="4.50" transform="rotate(14.0 430.50 447.00)" style="stroke-width:.85"/>
<ellipse class="k" cx="422.20" cy="468.40" rx="2.60" ry="3.70" transform="rotate(10.0 422.20 468.40)" style="stroke-width:1.2"/>
<ellipse class="k" cx="423.10" cy="487.00" rx="4.00" ry="5.00" transform="rotate(14.0 423.10 487.00)" style="stroke-width:.85"/>
<path class="k" d="M409.6 467.4 Q411.6 471.6 416.6 470.6" style="stroke-width:1.3"/>
<path class="u" d="M418 440 Q415 456 417 474 Q418 486 422 494" style="stroke:#555"/>
<path class="k" d="M424.9 498.1 L446.3 491.6 L457.6 493.6 L460 497 L428 507.6 L424 502.7 M428 507.6 L458 501 L480 494 M424 502.7 Q417 505 412.8 501.3" style="stroke-width:.85"/>
<path class="u" d="M446 497 L446 509 M456 500 L456.6 514 M462 500 L480 495 M440 512 L478 500 M448 517 L479 506" style="stroke:#666"/>
<path class="u" d="M366.6 470.2 L404 483 M372 470.6 L402.6 480 M390.4 470 L403 474.6 M356.6 462 L366 465.6 M346 470 L352 476 L366.4 482" style="stroke:#555"/>
<path class="t" d="M358.6 456 Q362 464 368 470 M343 462 L350 470.6"/>
<path class="t" d="M340 412 Q344 404 352 402 Q362 402 368 410 M338 440 Q340 452 348 458 M343.6 414 Q341 426 343 438 Q346 450 352 456" style="stroke:#333"/>
<path class="t" d="M371.4 410 L366 412 L364.6 440 L361 470 M388.3 412.5 L404 422 L404 440 M390 434 L402 441 M402 441 L402.6 480 M390 470 L402.6 476.6 M392.1 409.4 L388.3 412.5 M396 406.6 L404 402 L410 398" style="stroke:#333"/>
<path class="t" d="M397.6 420 Q394 432 397 446 M400.6 419 Q397 432 400 447 M408 421 Q412 432 409.6 446 M411.4 424 Q414.6 434 412.6 445" style="stroke:#333"/>
<path class="u" d="M404 483 L424 502.7 M402.6 476.6 L409 482 M366.4 482 L404 497 M352 476 L360 479.6 M385.2 499.5 L404 500.6" style="stroke:#555"/>
<path class="u" d="M485.3 406.1 L486.2 456.3 M476 412 L474 440 L470.6 436 M481.6 469.3 L470 476 M458 418.6 L458.6 424.6 M466 415.6 L466.6 421.6 M440 424 L440.6 428.6" style="stroke:#555"/>
<path class="t" d="M480.6 478 L493 474 M479 492 L490.2 489 L498.9 493.8 M476 506 L486.4 503.8 M470 482 L480.6 478 M457.5 493.5 L474.2 510.2 L476 506 M474.2 510.2 L462 515 L448 517" style="stroke:#333"/>
<path class="k" d="M347 482.0 L351 486.2 L354.4 486.4 L353.6 483.6" style="stroke-width:.85"/>
<path class="k" d="M373.9 495 L378.6 500.6 L384 501.5 L385.2 499.5" style="stroke-width:.85"/>
<path class="k" d="M401.5 508.0 L408 514.6 L413 515.2 L415.6 511.4" style="stroke-width:.85"/>
<path class="k" d="M430.6 519.2 L441.3 528.9 L447.6 524.2" style="stroke-width:.85"/>
<path class="k" d="M331.6 462 Q336 470 344 474.6 L347 482 M338.8 472.7 L345 480.6" style="stroke-width:.85"/>
<path class="t" d="M462.6 534.8 L461 538 L466 541.4 L474 541.2"/>
</g>

<!-- 90_centerlines.svg -->
<g id="centerlines">
<path class="c" d="M116.9 482.1 L374.5 385.6"/>
<path class="c" d="M480 346.1 L689.5 267.6"/>
<path class="c" d="M703.2 262.5 L778.4 234.3"/>
<path class="c" d="M191.3 541.6 L531.5 414.2"/>
<path class="c" d="M549 407.7 L783.5 319.9"/>
<path class="c" d="M792 316.7 L988 243.3"/>
<path class="c" d="M530 387.2 L546 375.6"/>
<path class="c" d="M544 399.4 L562 399.7"/>
<path class="c" d="M317.6 391.7 L414 394.2"/>
<path class="c" d="M364.6 511 L461 444.8"/>
<path class="c" d="M332 591.6 L400.2 511.4"/>
<path class="c" d="M341 619 L425.3 518.3"/>
</g>

</svg>
</body></html>
